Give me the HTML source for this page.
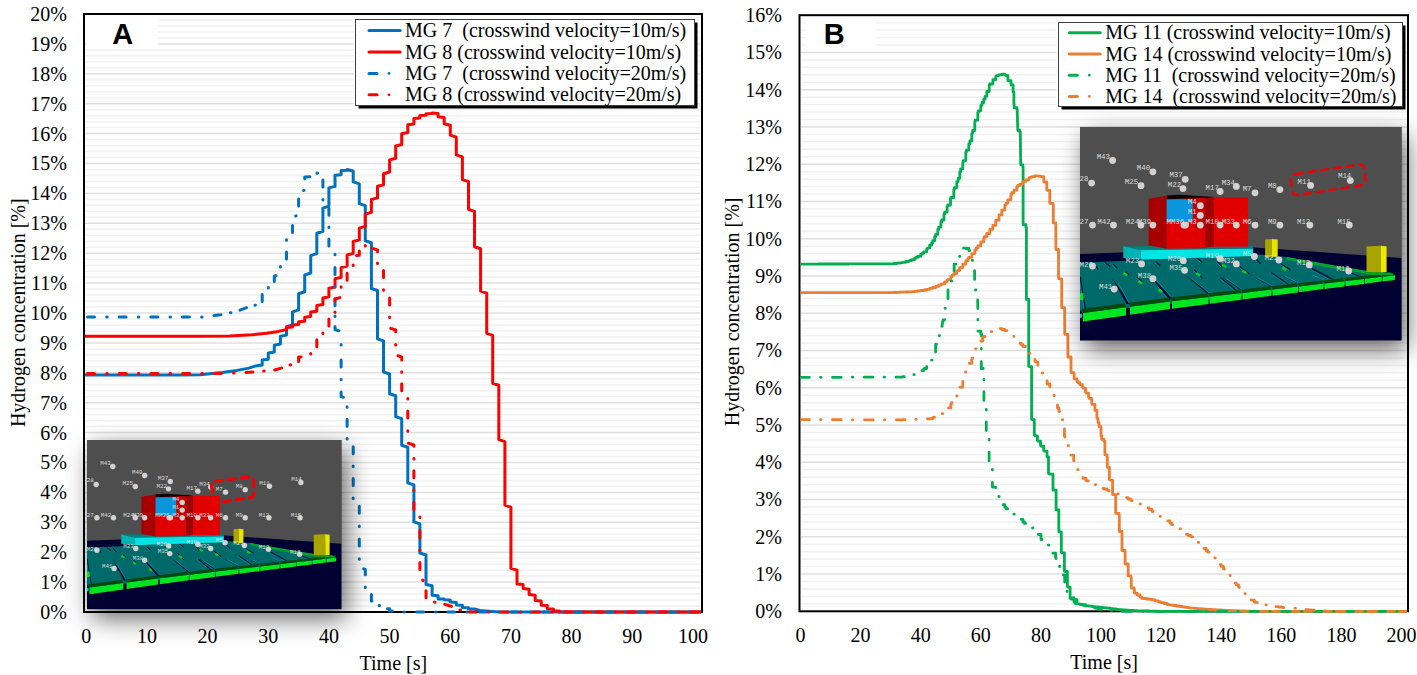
<!DOCTYPE html>
<html><head><meta charset="utf-8"><title>Hydrogen concentration</title>
<style>
html,body{margin:0;padding:0;background:#fff;overflow:hidden;}
svg{display:block;}
text{font-family:"Liberation Serif",serif;font-size:20px;fill:#000;}
.lbl{font-family:"Liberation Sans",sans-serif;font-weight:bold;font-size:29px;}
.mono{font-family:"Liberation Mono",monospace;}
</style></head><body>
<svg width="1417" height="675" viewBox="0 0 1417 675">
<defs>
<filter id="sh" x="-40%" y="-50%" width="180%" height="200%">
<feGaussianBlur in="SourceAlpha" stdDeviation="13"/>
<feOffset dx="5" dy="9" result="b"/>
<feComponentTransfer><feFuncA type="linear" slope="0.62"/></feComponentTransfer>
<feMerge><feMergeNode/><feMergeNode in="SourceGraphic"/></feMerge>
</filter>
</defs>
<rect width="1417" height="675" fill="#fff"/>

<line x1="85" y1="612.00" x2="700" y2="612.00" stroke="#dfdfdf" stroke-width="1.5"/>
<line x1="85" y1="606.02" x2="700" y2="606.02" stroke="#f1f1f1" stroke-width="1.5"/>
<line x1="85" y1="600.04" x2="700" y2="600.04" stroke="#f1f1f1" stroke-width="1.5"/>
<line x1="85" y1="594.06" x2="700" y2="594.06" stroke="#f1f1f1" stroke-width="1.5"/>
<line x1="85" y1="588.08" x2="700" y2="588.08" stroke="#f1f1f1" stroke-width="1.5"/>
<line x1="85" y1="582.10" x2="700" y2="582.10" stroke="#dfdfdf" stroke-width="1.5"/>
<line x1="85" y1="576.12" x2="700" y2="576.12" stroke="#f1f1f1" stroke-width="1.5"/>
<line x1="85" y1="570.14" x2="700" y2="570.14" stroke="#f1f1f1" stroke-width="1.5"/>
<line x1="85" y1="564.16" x2="700" y2="564.16" stroke="#f1f1f1" stroke-width="1.5"/>
<line x1="85" y1="558.18" x2="700" y2="558.18" stroke="#f1f1f1" stroke-width="1.5"/>
<line x1="85" y1="552.20" x2="700" y2="552.20" stroke="#dfdfdf" stroke-width="1.5"/>
<line x1="85" y1="546.22" x2="700" y2="546.22" stroke="#f1f1f1" stroke-width="1.5"/>
<line x1="85" y1="540.24" x2="700" y2="540.24" stroke="#f1f1f1" stroke-width="1.5"/>
<line x1="85" y1="534.26" x2="700" y2="534.26" stroke="#f1f1f1" stroke-width="1.5"/>
<line x1="85" y1="528.28" x2="700" y2="528.28" stroke="#f1f1f1" stroke-width="1.5"/>
<line x1="85" y1="522.30" x2="700" y2="522.30" stroke="#dfdfdf" stroke-width="1.5"/>
<line x1="85" y1="516.32" x2="700" y2="516.32" stroke="#f1f1f1" stroke-width="1.5"/>
<line x1="85" y1="510.34" x2="700" y2="510.34" stroke="#f1f1f1" stroke-width="1.5"/>
<line x1="85" y1="504.36" x2="700" y2="504.36" stroke="#f1f1f1" stroke-width="1.5"/>
<line x1="85" y1="498.38" x2="700" y2="498.38" stroke="#f1f1f1" stroke-width="1.5"/>
<line x1="85" y1="492.40" x2="700" y2="492.40" stroke="#dfdfdf" stroke-width="1.5"/>
<line x1="85" y1="486.42" x2="700" y2="486.42" stroke="#f1f1f1" stroke-width="1.5"/>
<line x1="85" y1="480.44" x2="700" y2="480.44" stroke="#f1f1f1" stroke-width="1.5"/>
<line x1="85" y1="474.46" x2="700" y2="474.46" stroke="#f1f1f1" stroke-width="1.5"/>
<line x1="85" y1="468.48" x2="700" y2="468.48" stroke="#f1f1f1" stroke-width="1.5"/>
<line x1="85" y1="462.50" x2="700" y2="462.50" stroke="#dfdfdf" stroke-width="1.5"/>
<line x1="85" y1="456.52" x2="700" y2="456.52" stroke="#f1f1f1" stroke-width="1.5"/>
<line x1="85" y1="450.54" x2="700" y2="450.54" stroke="#f1f1f1" stroke-width="1.5"/>
<line x1="85" y1="444.56" x2="700" y2="444.56" stroke="#f1f1f1" stroke-width="1.5"/>
<line x1="85" y1="438.58" x2="700" y2="438.58" stroke="#f1f1f1" stroke-width="1.5"/>
<line x1="85" y1="432.60" x2="700" y2="432.60" stroke="#dfdfdf" stroke-width="1.5"/>
<line x1="85" y1="426.62" x2="700" y2="426.62" stroke="#f1f1f1" stroke-width="1.5"/>
<line x1="85" y1="420.64" x2="700" y2="420.64" stroke="#f1f1f1" stroke-width="1.5"/>
<line x1="85" y1="414.66" x2="700" y2="414.66" stroke="#f1f1f1" stroke-width="1.5"/>
<line x1="85" y1="408.68" x2="700" y2="408.68" stroke="#f1f1f1" stroke-width="1.5"/>
<line x1="85" y1="402.70" x2="700" y2="402.70" stroke="#dfdfdf" stroke-width="1.5"/>
<line x1="85" y1="396.72" x2="700" y2="396.72" stroke="#f1f1f1" stroke-width="1.5"/>
<line x1="85" y1="390.74" x2="700" y2="390.74" stroke="#f1f1f1" stroke-width="1.5"/>
<line x1="85" y1="384.76" x2="700" y2="384.76" stroke="#f1f1f1" stroke-width="1.5"/>
<line x1="85" y1="378.78" x2="700" y2="378.78" stroke="#f1f1f1" stroke-width="1.5"/>
<line x1="85" y1="372.80" x2="700" y2="372.80" stroke="#dfdfdf" stroke-width="1.5"/>
<line x1="85" y1="366.82" x2="700" y2="366.82" stroke="#f1f1f1" stroke-width="1.5"/>
<line x1="85" y1="360.84" x2="700" y2="360.84" stroke="#f1f1f1" stroke-width="1.5"/>
<line x1="85" y1="354.86" x2="700" y2="354.86" stroke="#f1f1f1" stroke-width="1.5"/>
<line x1="85" y1="348.88" x2="700" y2="348.88" stroke="#f1f1f1" stroke-width="1.5"/>
<line x1="85" y1="342.90" x2="700" y2="342.90" stroke="#dfdfdf" stroke-width="1.5"/>
<line x1="85" y1="336.92" x2="700" y2="336.92" stroke="#f1f1f1" stroke-width="1.5"/>
<line x1="85" y1="330.94" x2="700" y2="330.94" stroke="#f1f1f1" stroke-width="1.5"/>
<line x1="85" y1="324.96" x2="700" y2="324.96" stroke="#f1f1f1" stroke-width="1.5"/>
<line x1="85" y1="318.98" x2="700" y2="318.98" stroke="#f1f1f1" stroke-width="1.5"/>
<line x1="85" y1="313.00" x2="700" y2="313.00" stroke="#dfdfdf" stroke-width="1.5"/>
<line x1="85" y1="307.02" x2="700" y2="307.02" stroke="#f1f1f1" stroke-width="1.5"/>
<line x1="85" y1="301.04" x2="700" y2="301.04" stroke="#f1f1f1" stroke-width="1.5"/>
<line x1="85" y1="295.06" x2="700" y2="295.06" stroke="#f1f1f1" stroke-width="1.5"/>
<line x1="85" y1="289.08" x2="700" y2="289.08" stroke="#f1f1f1" stroke-width="1.5"/>
<line x1="85" y1="283.10" x2="700" y2="283.10" stroke="#dfdfdf" stroke-width="1.5"/>
<line x1="85" y1="277.12" x2="700" y2="277.12" stroke="#f1f1f1" stroke-width="1.5"/>
<line x1="85" y1="271.14" x2="700" y2="271.14" stroke="#f1f1f1" stroke-width="1.5"/>
<line x1="85" y1="265.16" x2="700" y2="265.16" stroke="#f1f1f1" stroke-width="1.5"/>
<line x1="85" y1="259.18" x2="700" y2="259.18" stroke="#f1f1f1" stroke-width="1.5"/>
<line x1="85" y1="253.20" x2="700" y2="253.20" stroke="#dfdfdf" stroke-width="1.5"/>
<line x1="85" y1="247.22" x2="700" y2="247.22" stroke="#f1f1f1" stroke-width="1.5"/>
<line x1="85" y1="241.24" x2="700" y2="241.24" stroke="#f1f1f1" stroke-width="1.5"/>
<line x1="85" y1="235.26" x2="700" y2="235.26" stroke="#f1f1f1" stroke-width="1.5"/>
<line x1="85" y1="229.28" x2="700" y2="229.28" stroke="#f1f1f1" stroke-width="1.5"/>
<line x1="85" y1="223.30" x2="700" y2="223.30" stroke="#dfdfdf" stroke-width="1.5"/>
<line x1="85" y1="217.32" x2="700" y2="217.32" stroke="#f1f1f1" stroke-width="1.5"/>
<line x1="85" y1="211.34" x2="700" y2="211.34" stroke="#f1f1f1" stroke-width="1.5"/>
<line x1="85" y1="205.36" x2="700" y2="205.36" stroke="#f1f1f1" stroke-width="1.5"/>
<line x1="85" y1="199.38" x2="700" y2="199.38" stroke="#f1f1f1" stroke-width="1.5"/>
<line x1="85" y1="193.40" x2="700" y2="193.40" stroke="#dfdfdf" stroke-width="1.5"/>
<line x1="85" y1="187.42" x2="700" y2="187.42" stroke="#f1f1f1" stroke-width="1.5"/>
<line x1="85" y1="181.44" x2="700" y2="181.44" stroke="#f1f1f1" stroke-width="1.5"/>
<line x1="85" y1="175.46" x2="700" y2="175.46" stroke="#f1f1f1" stroke-width="1.5"/>
<line x1="85" y1="169.48" x2="700" y2="169.48" stroke="#f1f1f1" stroke-width="1.5"/>
<line x1="85" y1="163.50" x2="700" y2="163.50" stroke="#dfdfdf" stroke-width="1.5"/>
<line x1="85" y1="157.52" x2="700" y2="157.52" stroke="#f1f1f1" stroke-width="1.5"/>
<line x1="85" y1="151.54" x2="700" y2="151.54" stroke="#f1f1f1" stroke-width="1.5"/>
<line x1="85" y1="145.56" x2="700" y2="145.56" stroke="#f1f1f1" stroke-width="1.5"/>
<line x1="85" y1="139.58" x2="700" y2="139.58" stroke="#f1f1f1" stroke-width="1.5"/>
<line x1="85" y1="133.60" x2="700" y2="133.60" stroke="#dfdfdf" stroke-width="1.5"/>
<line x1="85" y1="127.62" x2="700" y2="127.62" stroke="#f1f1f1" stroke-width="1.5"/>
<line x1="85" y1="121.64" x2="700" y2="121.64" stroke="#f1f1f1" stroke-width="1.5"/>
<line x1="85" y1="115.66" x2="700" y2="115.66" stroke="#f1f1f1" stroke-width="1.5"/>
<line x1="85" y1="109.68" x2="700" y2="109.68" stroke="#f1f1f1" stroke-width="1.5"/>
<line x1="85" y1="103.70" x2="700" y2="103.70" stroke="#dfdfdf" stroke-width="1.5"/>
<line x1="85" y1="97.72" x2="700" y2="97.72" stroke="#f1f1f1" stroke-width="1.5"/>
<line x1="85" y1="91.74" x2="700" y2="91.74" stroke="#f1f1f1" stroke-width="1.5"/>
<line x1="85" y1="85.76" x2="700" y2="85.76" stroke="#f1f1f1" stroke-width="1.5"/>
<line x1="85" y1="79.78" x2="700" y2="79.78" stroke="#f1f1f1" stroke-width="1.5"/>
<line x1="85" y1="73.80" x2="700" y2="73.80" stroke="#dfdfdf" stroke-width="1.5"/>
<line x1="85" y1="67.82" x2="700" y2="67.82" stroke="#f1f1f1" stroke-width="1.5"/>
<line x1="85" y1="61.84" x2="700" y2="61.84" stroke="#f1f1f1" stroke-width="1.5"/>
<line x1="85" y1="55.86" x2="700" y2="55.86" stroke="#f1f1f1" stroke-width="1.5"/>
<line x1="85" y1="49.88" x2="700" y2="49.88" stroke="#f1f1f1" stroke-width="1.5"/>
<line x1="85" y1="43.90" x2="700" y2="43.90" stroke="#dfdfdf" stroke-width="1.5"/>
<line x1="85" y1="37.92" x2="700" y2="37.92" stroke="#f1f1f1" stroke-width="1.5"/>
<line x1="85" y1="31.94" x2="700" y2="31.94" stroke="#f1f1f1" stroke-width="1.5"/>
<line x1="85" y1="25.96" x2="700" y2="25.96" stroke="#f1f1f1" stroke-width="1.5"/>
<line x1="85" y1="19.98" x2="700" y2="19.98" stroke="#f1f1f1" stroke-width="1.5"/>
<line x1="85" y1="14.00" x2="700" y2="14.00" stroke="#dfdfdf" stroke-width="1.5"/>
<line x1="801" y1="611.30" x2="1407" y2="611.30" stroke="#dfdfdf" stroke-width="1.5"/>
<line x1="801" y1="603.85" x2="1407" y2="603.85" stroke="#f1f1f1" stroke-width="1.5"/>
<line x1="801" y1="596.40" x2="1407" y2="596.40" stroke="#f1f1f1" stroke-width="1.5"/>
<line x1="801" y1="588.95" x2="1407" y2="588.95" stroke="#f1f1f1" stroke-width="1.5"/>
<line x1="801" y1="581.50" x2="1407" y2="581.50" stroke="#f1f1f1" stroke-width="1.5"/>
<line x1="801" y1="574.04" x2="1407" y2="574.04" stroke="#dfdfdf" stroke-width="1.5"/>
<line x1="801" y1="566.59" x2="1407" y2="566.59" stroke="#f1f1f1" stroke-width="1.5"/>
<line x1="801" y1="559.14" x2="1407" y2="559.14" stroke="#f1f1f1" stroke-width="1.5"/>
<line x1="801" y1="551.69" x2="1407" y2="551.69" stroke="#f1f1f1" stroke-width="1.5"/>
<line x1="801" y1="544.24" x2="1407" y2="544.24" stroke="#f1f1f1" stroke-width="1.5"/>
<line x1="801" y1="536.79" x2="1407" y2="536.79" stroke="#dfdfdf" stroke-width="1.5"/>
<line x1="801" y1="529.34" x2="1407" y2="529.34" stroke="#f1f1f1" stroke-width="1.5"/>
<line x1="801" y1="521.89" x2="1407" y2="521.89" stroke="#f1f1f1" stroke-width="1.5"/>
<line x1="801" y1="514.43" x2="1407" y2="514.43" stroke="#f1f1f1" stroke-width="1.5"/>
<line x1="801" y1="506.98" x2="1407" y2="506.98" stroke="#f1f1f1" stroke-width="1.5"/>
<line x1="801" y1="499.53" x2="1407" y2="499.53" stroke="#dfdfdf" stroke-width="1.5"/>
<line x1="801" y1="492.08" x2="1407" y2="492.08" stroke="#f1f1f1" stroke-width="1.5"/>
<line x1="801" y1="484.63" x2="1407" y2="484.63" stroke="#f1f1f1" stroke-width="1.5"/>
<line x1="801" y1="477.18" x2="1407" y2="477.18" stroke="#f1f1f1" stroke-width="1.5"/>
<line x1="801" y1="469.73" x2="1407" y2="469.73" stroke="#f1f1f1" stroke-width="1.5"/>
<line x1="801" y1="462.28" x2="1407" y2="462.28" stroke="#dfdfdf" stroke-width="1.5"/>
<line x1="801" y1="454.82" x2="1407" y2="454.82" stroke="#f1f1f1" stroke-width="1.5"/>
<line x1="801" y1="447.37" x2="1407" y2="447.37" stroke="#f1f1f1" stroke-width="1.5"/>
<line x1="801" y1="439.92" x2="1407" y2="439.92" stroke="#f1f1f1" stroke-width="1.5"/>
<line x1="801" y1="432.47" x2="1407" y2="432.47" stroke="#f1f1f1" stroke-width="1.5"/>
<line x1="801" y1="425.02" x2="1407" y2="425.02" stroke="#dfdfdf" stroke-width="1.5"/>
<line x1="801" y1="417.57" x2="1407" y2="417.57" stroke="#f1f1f1" stroke-width="1.5"/>
<line x1="801" y1="410.12" x2="1407" y2="410.12" stroke="#f1f1f1" stroke-width="1.5"/>
<line x1="801" y1="402.67" x2="1407" y2="402.67" stroke="#f1f1f1" stroke-width="1.5"/>
<line x1="801" y1="395.22" x2="1407" y2="395.22" stroke="#f1f1f1" stroke-width="1.5"/>
<line x1="801" y1="387.76" x2="1407" y2="387.76" stroke="#dfdfdf" stroke-width="1.5"/>
<line x1="801" y1="380.31" x2="1407" y2="380.31" stroke="#f1f1f1" stroke-width="1.5"/>
<line x1="801" y1="372.86" x2="1407" y2="372.86" stroke="#f1f1f1" stroke-width="1.5"/>
<line x1="801" y1="365.41" x2="1407" y2="365.41" stroke="#f1f1f1" stroke-width="1.5"/>
<line x1="801" y1="357.96" x2="1407" y2="357.96" stroke="#f1f1f1" stroke-width="1.5"/>
<line x1="801" y1="350.51" x2="1407" y2="350.51" stroke="#dfdfdf" stroke-width="1.5"/>
<line x1="801" y1="343.06" x2="1407" y2="343.06" stroke="#f1f1f1" stroke-width="1.5"/>
<line x1="801" y1="335.61" x2="1407" y2="335.61" stroke="#f1f1f1" stroke-width="1.5"/>
<line x1="801" y1="328.15" x2="1407" y2="328.15" stroke="#f1f1f1" stroke-width="1.5"/>
<line x1="801" y1="320.70" x2="1407" y2="320.70" stroke="#f1f1f1" stroke-width="1.5"/>
<line x1="801" y1="313.25" x2="1407" y2="313.25" stroke="#dfdfdf" stroke-width="1.5"/>
<line x1="801" y1="305.80" x2="1407" y2="305.80" stroke="#f1f1f1" stroke-width="1.5"/>
<line x1="801" y1="298.35" x2="1407" y2="298.35" stroke="#f1f1f1" stroke-width="1.5"/>
<line x1="801" y1="290.90" x2="1407" y2="290.90" stroke="#f1f1f1" stroke-width="1.5"/>
<line x1="801" y1="283.45" x2="1407" y2="283.45" stroke="#f1f1f1" stroke-width="1.5"/>
<line x1="801" y1="276.00" x2="1407" y2="276.00" stroke="#dfdfdf" stroke-width="1.5"/>
<line x1="801" y1="268.54" x2="1407" y2="268.54" stroke="#f1f1f1" stroke-width="1.5"/>
<line x1="801" y1="261.09" x2="1407" y2="261.09" stroke="#f1f1f1" stroke-width="1.5"/>
<line x1="801" y1="253.64" x2="1407" y2="253.64" stroke="#f1f1f1" stroke-width="1.5"/>
<line x1="801" y1="246.19" x2="1407" y2="246.19" stroke="#f1f1f1" stroke-width="1.5"/>
<line x1="801" y1="238.74" x2="1407" y2="238.74" stroke="#dfdfdf" stroke-width="1.5"/>
<line x1="801" y1="231.29" x2="1407" y2="231.29" stroke="#f1f1f1" stroke-width="1.5"/>
<line x1="801" y1="223.84" x2="1407" y2="223.84" stroke="#f1f1f1" stroke-width="1.5"/>
<line x1="801" y1="216.39" x2="1407" y2="216.39" stroke="#f1f1f1" stroke-width="1.5"/>
<line x1="801" y1="208.94" x2="1407" y2="208.94" stroke="#f1f1f1" stroke-width="1.5"/>
<line x1="801" y1="201.48" x2="1407" y2="201.48" stroke="#dfdfdf" stroke-width="1.5"/>
<line x1="801" y1="194.03" x2="1407" y2="194.03" stroke="#f1f1f1" stroke-width="1.5"/>
<line x1="801" y1="186.58" x2="1407" y2="186.58" stroke="#f1f1f1" stroke-width="1.5"/>
<line x1="801" y1="179.13" x2="1407" y2="179.13" stroke="#f1f1f1" stroke-width="1.5"/>
<line x1="801" y1="171.68" x2="1407" y2="171.68" stroke="#f1f1f1" stroke-width="1.5"/>
<line x1="801" y1="164.23" x2="1407" y2="164.23" stroke="#dfdfdf" stroke-width="1.5"/>
<line x1="801" y1="156.78" x2="1407" y2="156.78" stroke="#f1f1f1" stroke-width="1.5"/>
<line x1="801" y1="149.33" x2="1407" y2="149.33" stroke="#f1f1f1" stroke-width="1.5"/>
<line x1="801" y1="141.87" x2="1407" y2="141.87" stroke="#f1f1f1" stroke-width="1.5"/>
<line x1="801" y1="134.42" x2="1407" y2="134.42" stroke="#f1f1f1" stroke-width="1.5"/>
<line x1="801" y1="126.97" x2="1407" y2="126.97" stroke="#dfdfdf" stroke-width="1.5"/>
<line x1="801" y1="119.52" x2="1407" y2="119.52" stroke="#f1f1f1" stroke-width="1.5"/>
<line x1="801" y1="112.07" x2="1407" y2="112.07" stroke="#f1f1f1" stroke-width="1.5"/>
<line x1="801" y1="104.62" x2="1407" y2="104.62" stroke="#f1f1f1" stroke-width="1.5"/>
<line x1="801" y1="97.17" x2="1407" y2="97.17" stroke="#f1f1f1" stroke-width="1.5"/>
<line x1="801" y1="89.72" x2="1407" y2="89.72" stroke="#dfdfdf" stroke-width="1.5"/>
<line x1="801" y1="82.26" x2="1407" y2="82.26" stroke="#f1f1f1" stroke-width="1.5"/>
<line x1="801" y1="74.81" x2="1407" y2="74.81" stroke="#f1f1f1" stroke-width="1.5"/>
<line x1="801" y1="67.36" x2="1407" y2="67.36" stroke="#f1f1f1" stroke-width="1.5"/>
<line x1="801" y1="59.91" x2="1407" y2="59.91" stroke="#f1f1f1" stroke-width="1.5"/>
<line x1="801" y1="52.46" x2="1407" y2="52.46" stroke="#dfdfdf" stroke-width="1.5"/>
<line x1="801" y1="45.01" x2="1407" y2="45.01" stroke="#f1f1f1" stroke-width="1.5"/>
<line x1="801" y1="37.56" x2="1407" y2="37.56" stroke="#f1f1f1" stroke-width="1.5"/>
<line x1="801" y1="30.11" x2="1407" y2="30.11" stroke="#f1f1f1" stroke-width="1.5"/>
<line x1="801" y1="22.66" x2="1407" y2="22.66" stroke="#f1f1f1" stroke-width="1.5"/>
<line x1="801" y1="15.20" x2="1407" y2="15.20" stroke="#dfdfdf" stroke-width="1.5"/>
<rect x="86" y="15" width="72" height="31" fill="#fff"/>
<text class="lbl" x="112.2" y="44.2">A</text>
<rect x="806" y="16" width="70" height="31" fill="#fff"/>
<text class="lbl" x="823.8" y="44.2">B</text>
<text x="66.8" y="618.90" text-anchor="end">0%</text>
<text x="66.8" y="589.00" text-anchor="end">1%</text>
<text x="66.8" y="559.10" text-anchor="end">2%</text>
<text x="66.8" y="529.20" text-anchor="end">3%</text>
<text x="66.8" y="499.30" text-anchor="end">4%</text>
<text x="66.8" y="469.40" text-anchor="end">5%</text>
<text x="66.8" y="439.50" text-anchor="end">6%</text>
<text x="66.8" y="409.60" text-anchor="end">7%</text>
<text x="66.8" y="379.70" text-anchor="end">8%</text>
<text x="66.8" y="349.80" text-anchor="end">9%</text>
<text x="66.8" y="319.90" text-anchor="end">10%</text>
<text x="66.8" y="290.00" text-anchor="end">11%</text>
<text x="66.8" y="260.10" text-anchor="end">12%</text>
<text x="66.8" y="230.20" text-anchor="end">13%</text>
<text x="66.8" y="200.30" text-anchor="end">14%</text>
<text x="66.8" y="170.40" text-anchor="end">15%</text>
<text x="66.8" y="140.50" text-anchor="end">16%</text>
<text x="66.8" y="110.60" text-anchor="end">17%</text>
<text x="66.8" y="80.70" text-anchor="end">18%</text>
<text x="66.8" y="50.80" text-anchor="end">19%</text>
<text x="66.8" y="20.90" text-anchor="end">20%</text>
<text x="782.0" y="618.20" text-anchor="end">0%</text>
<text x="782.0" y="580.94" text-anchor="end">1%</text>
<text x="782.0" y="543.69" text-anchor="end">2%</text>
<text x="782.0" y="506.43" text-anchor="end">3%</text>
<text x="782.0" y="469.18" text-anchor="end">4%</text>
<text x="782.0" y="431.92" text-anchor="end">5%</text>
<text x="782.0" y="394.66" text-anchor="end">6%</text>
<text x="782.0" y="357.41" text-anchor="end">7%</text>
<text x="782.0" y="320.15" text-anchor="end">8%</text>
<text x="782.0" y="282.90" text-anchor="end">9%</text>
<text x="782.0" y="245.64" text-anchor="end">10%</text>
<text x="782.0" y="208.38" text-anchor="end">11%</text>
<text x="782.0" y="171.13" text-anchor="end">12%</text>
<text x="782.0" y="133.87" text-anchor="end">13%</text>
<text x="782.0" y="96.62" text-anchor="end">14%</text>
<text x="782.0" y="59.36" text-anchor="end">15%</text>
<text x="782.0" y="22.10" text-anchor="end">16%</text>
<text x="86.30" y="643" text-anchor="middle">0</text>
<text x="146.96" y="643" text-anchor="middle">10</text>
<text x="207.62" y="643" text-anchor="middle">20</text>
<text x="268.28" y="643" text-anchor="middle">30</text>
<text x="328.94" y="643" text-anchor="middle">40</text>
<text x="389.60" y="643" text-anchor="middle">50</text>
<text x="450.26" y="643" text-anchor="middle">60</text>
<text x="510.92" y="643" text-anchor="middle">70</text>
<text x="571.58" y="643" text-anchor="middle">80</text>
<text x="632.24" y="643" text-anchor="middle">90</text>
<text x="692.90" y="643" text-anchor="middle">100</text>
<text x="800.50" y="642" text-anchor="middle">0</text>
<text x="860.60" y="642" text-anchor="middle">20</text>
<text x="920.70" y="642" text-anchor="middle">40</text>
<text x="980.80" y="642" text-anchor="middle">60</text>
<text x="1040.90" y="642" text-anchor="middle">80</text>
<text x="1101.00" y="642" text-anchor="middle">100</text>
<text x="1161.10" y="642" text-anchor="middle">120</text>
<text x="1221.20" y="642" text-anchor="middle">140</text>
<text x="1281.30" y="642" text-anchor="middle">160</text>
<text x="1341.40" y="642" text-anchor="middle">180</text>
<text x="1401.50" y="642" text-anchor="middle">200</text>
<text x="359.5" y="670">Time [s]</text>
<text x="1070.3" y="669">Time [s]</text>
<text transform="translate(25,312.7) rotate(-90)" text-anchor="middle">Hydrogen concentration [%]</text>
<text transform="translate(738.8,311.9) rotate(-90)" text-anchor="middle">Hydrogen concentration [%]</text>
<rect x="84" y="14" width="618" height="598" fill="none" stroke="#000" stroke-width="2"/>
<rect x="799.5" y="15.2" width="608.5" height="596.0999999999999" fill="none" stroke="#000" stroke-width="2"/>
<clipPath id="clipA"><rect x="85" y="15" width="616" height="600"/></clipPath>
<g clip-path="url(#clipA)">
<path d="M85.0,375.0 L180.0,375.0 L200.0,374.8 L222.2,372.6 L237.0,370.4 L248.9,368.1 L255.6,365.9 L262.2,365.0 L262.2,365.0 L262.2,360.0 L268.3,359.2 L268.3,353.0 L274.3,352.1 L274.3,345.2 L280.4,344.1 L280.4,336.3 L286.5,335.1 L286.5,326.7 L292.5,324.9 L292.5,311.9 L298.6,309.9 L298.6,293.8 L304.7,291.8 L304.7,275.0 L310.7,273.0 L310.7,255.6 L316.8,253.6 L316.8,233.3 L322.9,231.3 L322.9,208.1 L328.9,206.1 L328.9,187.9 L335.0,186.4 L335.0,175.3 L341.1,174.7 L341.1,170.4 L347.1,170.3 L347.1,169.5 L353.2,171.0 L353.2,181.9 L359.3,183.9 L359.3,203.7 L365.3,205.7 L365.3,240.7 L371.4,242.7 L371.4,288.5 L377.5,290.5 L377.5,338.8 L383.5,340.8 L383.5,372.0 L389.6,374.0 L389.6,393.8 L395.7,395.8 L395.7,416.6 L401.7,418.6 L401.7,445.2 L407.8,447.2 L407.8,482.9 L413.9,484.9 L413.9,521.9 L419.9,523.9 L419.9,553.0 L426.0,555.0 L426.0,584.5 L432.1,585.8 L432.1,595.2 L438.1,595.7 L438.1,599.0 L444.2,599.1 L444.2,599.8 L450.3,600.1 L450.3,602.0 L456.3,602.4 L456.3,605.0 L462.4,605.3 L462.4,607.5 L468.5,607.7 L468.5,609.0 L474.5,609.0 L480.0,610.5 L492.0,611.5 L500.0,612.0 L701.0,612.0" fill="none" stroke="#0070c0" stroke-width="3" stroke-linejoin="round" stroke-linecap="round"/>
<path d="M85.0,336.3 L200.0,336.3 L229.6,336.0 L251.9,334.8 L266.7,333.3 L278.5,331.4 L285.9,329.6 L286.5,329.6 L286.5,327.4 L292.5,327.1 L292.5,325.0 L298.6,324.6 L298.6,321.7 L304.7,321.2 L304.7,317.2 L310.7,316.6 L310.7,312.0 L316.8,311.2 L316.8,305.4 L322.9,304.5 L322.9,298.0 L328.9,296.8 L328.9,288.3 L335.0,287.1 L335.0,278.7 L341.1,277.4 L341.1,267.6 L347.1,266.1 L347.1,255.0 L353.2,253.4 L353.2,241.5 L359.3,239.9 L359.3,228.1 L365.3,226.4 L365.3,214.1 L371.4,212.3 L371.4,199.5 L377.5,197.9 L377.5,186.3 L383.5,184.8 L383.5,173.7 L389.6,172.0 L389.6,159.9 L395.7,158.2 L395.7,146.0 L401.7,144.5 L401.7,133.7 L407.8,132.6 L407.8,124.8 L413.9,124.0 L413.9,118.4 L419.9,118.1 L419.9,115.5 L426.0,115.3 L426.0,113.7 L432.1,113.6 L432.1,113.0 L438.1,113.4 L438.1,116.7 L444.2,117.6 L444.2,123.8 L450.3,125.2 L450.3,135.2 L456.3,137.2 L456.3,154.9 L462.4,156.9 L462.4,179.6 L468.5,181.6 L468.5,209.3 L474.5,211.3 L474.5,246.7 L480.6,248.7 L480.6,291.1 L486.7,293.1 L486.7,333.3 L492.7,335.3 L492.7,383.3 L498.8,385.3 L498.8,439.6 L504.9,441.6 L504.9,505.2 L510.9,507.2 L510.9,568.2 L517.0,570.1 L517.0,584.1 L523.1,584.6 L523.1,588.6 L529.1,589.3 L529.1,594.5 L535.2,595.2 L535.2,600.4 L541.2,601.0 L541.2,605.2 L547.3,605.6 L547.3,608.7 L553.4,609.0 L553.4,610.9 L559.4,611.0 L559.4,612.0 L565.5,612.0 L701.0,612.0" fill="none" stroke="#ff0000" stroke-width="3" stroke-linejoin="round" stroke-linecap="round"/>
<path d="M87.5,317.1 L94.5,317.1 M106.7,317.1 L107.2,317.1 M119.1,317.1 L126.1,317.1 M138.3,317.1 L138.8,317.1 M150.8,317.1 L157.8,317.1 M170.0,317.1 L170.5,317.1 M182.4,317.1 L189.4,317.1 M201.6,317.0 L201.8,317.0 L202.1,317.0 M214.0,315.5 L220.7,314.8 L221.0,314.7 M230.4,312.8 L230.9,312.7 M240.0,310.1 L245.2,308.1 L246.5,307.7 M255.0,305.3 L255.4,305.2 M262.2,301.5 L262.2,294.5 M268.3,287.9 L268.3,287.4 M274.3,281.5 L274.3,276.2 L276.0,275.7 M280.4,267.0 L280.4,266.5 M286.5,259.0 L286.5,252.0 M286.5,240.2 L286.5,239.7 M292.5,232.5 L292.5,225.5 M295.7,216.0 L296.1,215.8 M298.6,206.0 L298.6,199.0 M303.6,190.5 L304.1,190.4 M304.7,178.8 L304.7,177.0 L309.9,176.8 M317.1,173.1 L317.6,173.3 M322.9,180.0 L322.9,187.0 M322.9,199.6 L322.9,200.0 L323.0,200.0 M328.9,208.2 L328.9,215.2 M328.9,226.9 L328.9,227.4 M328.9,238.9 L328.9,245.9 M335.0,254.3 L335.0,254.8 M335.0,267.4 L335.0,274.4 M335.0,286.4 L335.0,286.9 M335.0,298.7 L335.0,305.7 M335.0,315.9 L335.0,316.4 M335.0,326.5 L335.0,329.5 L338.8,330.8 M341.1,344.4 L341.1,344.9 M341.1,360.0 L341.1,367.0 M341.1,379.3 L341.1,379.8 M341.1,391.9 L341.1,396.5 L343.4,397.3 M347.1,406.8 L347.1,407.3 M347.1,419.3 L347.1,426.3 M347.1,438.5 L347.1,439.0 M353.2,446.7 L353.2,453.7 M353.2,466.0 L353.2,466.5 M353.2,478.5 L353.2,485.5 M353.2,497.9 L353.2,498.4 M359.3,506.3 L359.3,513.3 M359.3,526.0 L359.3,526.5 M359.3,538.9 L359.3,545.9 M359.3,558.8 L359.3,559.3 M363.6,568.9 L365.3,569.5 L365.3,574.7 M365.3,586.9 L365.3,587.4 M371.4,594.5 L371.4,601.0 L371.9,601.0 M379.1,605.4 L379.6,605.4 M387.5,608.7 L389.6,608.8 L389.6,611.0 L392.3,611.1 M403.9,612.0 L404.4,612.0 M416.7,612.0 L423.7,612.0 M435.6,612.0 L436.1,612.0 M447.8,612.0 L454.8,612.0 M467.0,612.0 L467.5,612.0 M479.5,612.0 L486.5,612.0 M498.7,612.0 L499.2,612.0 M511.2,612.0 L518.2,612.0 M530.4,612.0 L530.9,612.0 M542.9,612.0 L549.9,612.0 M562.1,612.0 L562.6,612.0 M574.6,612.0 L581.6,612.0 M593.8,612.0 L594.3,612.0 M606.3,612.0 L613.3,612.0 M625.5,612.0 L626.0,612.0 M638.0,612.0 L645.0,612.0 M657.2,612.0 L657.7,612.0 M669.7,612.0 L676.7,612.0 M688.9,612.0 L689.4,612.0" fill="none" stroke="#0070c0" stroke-width="3" stroke-linecap="round" stroke-linejoin="round"/>
<path d="M87.5,373.6 L94.5,373.6 M106.7,373.6 L107.2,373.6 M119.2,373.6 L126.2,373.6 M138.4,373.6 L138.9,373.6 M150.9,373.6 L157.9,373.6 M170.1,373.6 L170.6,373.6 M182.6,373.6 L189.6,373.6 M201.8,373.6 L202.3,373.6 M214.3,373.6 L221.3,373.6 M233.5,372.9 L234.0,372.9 M246.0,372.4 L252.6,372.1 L253.0,372.1 M263.7,371.1 L264.2,371.0 M274.7,370.0 L281.2,368.1 L281.5,368.0 M290.1,365.0 L290.6,364.8 M298.6,361.5 L298.6,357.0 L301.1,356.9 M310.7,354.1 L310.7,353.6 M316.8,346.8 L316.8,339.8 M322.9,333.4 L322.9,332.9 M328.9,326.1 L328.9,319.1 M335.0,312.4 L335.0,311.9 M335.0,301.0 L335.0,299.0 L339.8,297.6 M341.1,287.3 L341.1,286.8 M347.1,280.2 L347.1,273.2 M353.2,265.4 L353.2,264.9 M356.6,255.6 L359.3,255.2 L359.3,250.9 M365.3,246.0 L365.3,245.5 M372.4,248.3 L377.5,250.0 L377.5,251.7 M377.5,263.1 L377.5,263.6 M383.5,270.4 L383.5,277.4 M383.5,289.7 L383.5,290.2 M389.6,297.9 L389.6,304.9 M389.6,316.9 L389.6,317.4 M390.7,328.4 L395.7,330.0 L395.7,331.8 M395.7,344.4 L395.7,344.9 M398.0,355.8 L401.7,357.0 L401.7,360.0 M401.7,371.7 L401.7,372.2 M401.7,383.7 L401.7,390.7 M407.8,398.6 L407.8,399.1 M407.8,411.1 L407.8,418.1 M407.8,430.7 L407.8,431.2 M408.4,443.2 L413.9,445.0 L413.9,446.3 M413.9,458.4 L413.9,458.9 M413.9,470.8 L413.9,477.8 M413.9,490.1 L413.9,490.6 M413.9,502.6 L413.9,509.6 M419.9,517.0 L419.9,517.5 M419.9,530.8 L419.9,537.8 M419.9,550.1 L419.9,550.6 M419.9,562.6 L419.9,569.6 M422.7,580.1 L423.0,580.5 M426.0,590.8 L426.0,597.8 M434.5,602.1 L435.0,602.2 M444.8,604.4 L451.2,606.3 L451.5,606.4 M460.0,609.9 L460.5,610.0 M469.3,612.0 L476.3,612.0 M488.5,612.0 L489.0,612.0 M501.0,612.0 L508.0,612.0 M520.2,612.0 L520.7,612.0 M532.7,612.0 L539.7,612.0 M551.9,612.0 L552.4,612.0 M564.4,612.0 L571.4,612.0 M583.6,612.0 L584.1,612.0 M596.1,612.0 L603.1,612.0 M615.3,612.0 L615.8,612.0 M627.8,612.0 L634.8,612.0 M647.0,612.0 L647.5,612.0 M659.5,612.0 L666.5,612.0 M678.7,612.0 L679.2,612.0 M691.2,612.0 L698.2,612.0" fill="none" stroke="#ff0000" stroke-width="3" stroke-linecap="round" stroke-linejoin="round"/>
</g>
<clipPath id="clipB"><rect x="800.5" y="16" width="606.5" height="600"/></clipPath>
<g clip-path="url(#clipB)">
<path d="M801.0,264.1 L803.5,264.1 L803.5,264.1 L806.5,264.1 L806.5,264.1 L809.5,264.1 L809.5,264.1 L812.5,264.1 L812.5,264.1 L815.5,264.1 L815.5,264.1 L818.5,264.1 L818.5,264.0 L821.5,264.0 L821.5,264.0 L824.5,264.0 L824.5,264.0 L827.5,264.0 L827.5,264.0 L830.5,264.0 L830.5,264.0 L833.6,264.0 L833.6,264.0 L836.6,264.0 L836.6,264.0 L839.6,264.0 L839.6,264.0 L842.6,264.0 L842.6,264.0 L845.6,264.0 L845.6,264.0 L848.6,264.0 L848.6,263.9 L851.6,263.9 L851.6,263.9 L854.6,263.9 L854.6,263.9 L857.6,263.9 L857.6,263.9 L860.6,263.9 L860.6,263.9 L863.6,263.9 L863.6,263.9 L866.6,263.9 L866.6,263.9 L869.6,263.9 L869.6,263.9 L872.6,263.9 L872.6,263.9 L875.6,263.9 L875.6,263.9 L878.6,263.9 L878.6,263.8 L881.6,263.8 L881.6,263.8 L884.6,263.8 L884.6,263.8 L887.6,263.8 L887.6,263.8 L890.6,263.8 L890.6,263.8 L891.1,263.8 L891.1,263.8 L893.7,263.8 L893.7,263.5 L896.7,263.5 L896.7,263.2 L899.7,263.2 L899.7,262.8 L901.5,262.8 L901.5,262.6 L902.7,262.6 L902.7,262.3 L905.7,262.3 L905.7,261.5 L908.7,261.5 L908.7,260.8 L909.8,260.8 L909.8,260.5 L911.7,260.5 L911.7,259.6 L914.7,259.6 L914.7,258.1 L916.0,258.1 L916.0,257.4 L917.7,257.4 L917.7,256.3 L920.7,256.3 L920.7,254.3 L922.2,254.3 L922.2,253.3 L923.7,253.3 L923.7,251.8 L926.7,251.8 L926.7,248.8 L927.4,248.8 L927.4,248.1 L929.7,248.1 L929.7,245.2 L931.6,245.2 L931.6,242.9 L932.7,242.9 L932.7,240.7 L934.7,240.7 L934.7,236.7 L935.7,236.7 L935.7,234.3 L937.8,234.3 L937.8,229.4 L938.7,229.4 L938.7,227.2 L940.9,227.2 L940.9,222.2 L941.7,222.2 L941.7,220.0 L944.0,220.0 L944.0,213.9 L944.7,213.9 L944.7,212.2 L947.1,212.2 L947.1,206.6 L947.7,206.6 L947.7,205.0 L950.5,205.0 L950.5,198.2 L950.8,198.2 L950.8,197.5 L953.8,197.5 L953.8,189.4 L954.4,189.4 L954.4,187.6 L956.8,187.6 L956.8,181.7 L958.1,181.7 L958.1,178.3 L959.8,178.3 L959.8,172.0 L960.6,172.0 L960.6,168.9 L962.8,168.9 L962.8,162.2 L963.3,162.2 L963.3,160.6 L965.8,160.6 L965.8,152.3 L966.4,152.3 L966.4,150.2 L968.8,150.2 L968.8,143.9 L969.9,143.9 L969.9,140.9 L971.8,140.9 L971.8,133.6 L972.6,133.6 L972.6,130.5 L974.8,130.5 L974.8,121.5 L975.1,121.5 L975.1,120.2 L977.8,120.2 L977.8,112.5 L978.4,112.5 L978.4,110.8 L980.8,110.8 L980.8,105.3 L982.0,105.3 L982.0,102.5 L983.8,102.5 L983.8,98.9 L985.1,98.9 L985.1,96.3 L986.8,96.3 L986.8,91.5 L989.2,91.5 L989.2,84.9 L989.8,84.9 L989.8,84.0 L992.9,84.0 L992.9,79.7 L995.8,79.7 L995.8,76.4 L996.5,76.4 L996.5,75.6 L998.8,75.6 L998.8,74.9 L1001.7,74.9 L1001.7,74.1 L1001.8,74.1 L1001.8,74.1 L1004.8,74.1 L1004.8,75.2 L1005.8,75.2 L1005.8,75.6 L1007.9,75.6 L1007.9,80.7 L1011.0,80.7 L1011.0,84.9 L1013.1,84.9 L1013.1,92.2 L1013.9,92.2 L1013.9,103.9 L1014.1,103.9 L1014.1,107.7 L1016.9,107.7 L1016.9,109.6 L1017.2,109.6 L1017.2,109.8 L1017.8,130.5 L1019.9,130.5 L1019.9,132.2 L1020.3,132.2 L1020.3,132.6 L1020.7,164.8 L1022.9,164.8 L1022.9,167.2 L1023.1,167.2 L1023.1,167.5 L1023.1,224.6 L1025.9,224.6 L1025.9,227.5 L1026.4,227.5 L1026.4,228.0 L1026.4,299.3 L1028.7,299.3 L1028.7,302.0 L1028.7,366.4 L1028.9,366.4 L1028.9,366.6 L1031.6,366.6 L1031.6,370.0 L1031.6,419.3 L1031.9,419.3 L1031.9,419.6 L1034.3,419.6 L1034.3,422.0 L1034.3,434.9 L1034.9,434.9 L1034.9,435.9 L1037.4,435.9 L1037.4,440.4 L1037.9,440.4 L1037.9,441.2 L1040.5,441.2 L1040.5,445.6 L1040.9,445.6 L1040.9,446.2 L1043.7,446.2 L1043.7,450.7 L1043.9,450.7 L1043.9,451.1 L1047.0,451.1 L1047.0,457.0 L1048.5,457.0 L1048.5,473.6 L1049.9,473.6 L1049.9,474.2 L1053.0,474.2 L1053.0,475.6 L1053.0,490.2 L1056.1,490.2 L1056.1,492.2 L1056.1,509.9 L1058.8,509.9 L1058.8,512.0 L1058.8,531.7 L1058.9,531.7 L1058.9,531.8 L1061.3,531.8 L1061.3,534.0 L1061.3,552.4 L1061.9,552.4 L1061.9,552.9 L1064.4,552.9 L1064.4,555.0 L1064.4,571.3 L1064.9,571.3 L1064.9,571.5 L1067.4,571.5 L1067.4,572.5 L1067.4,586.8 L1067.9,586.8 L1067.9,587.1 L1070.1,587.1 L1070.1,588.5 L1070.1,598.3 L1071.0,598.3 L1071.0,599.1 L1074.0,599.1 L1074.0,602.1 L1075.3,602.1 L1075.3,603.4 L1077.0,603.4 L1077.0,603.8 L1080.0,603.8 L1080.0,604.5 L1083.0,604.5 L1083.0,605.3 L1085.6,605.3 L1085.6,605.9 L1086.0,605.9 L1086.0,605.9 L1089.0,605.9 L1089.0,606.2 L1092.0,606.2 L1092.0,606.6 L1095.0,606.6 L1095.0,606.9 L1098.0,606.9 L1098.0,607.2 L1101.0,607.2 L1101.0,607.5 L1102.2,607.5 L1102.2,607.6 L1104.0,607.6 L1104.0,607.8 L1107.0,607.8 L1107.0,608.2 L1110.0,608.2 L1110.0,608.6 L1113.0,608.6 L1113.0,609.0 L1116.0,609.0 L1116.0,609.3 L1118.8,609.3 L1118.8,609.7 L1119.0,609.7 L1119.0,609.7 L1122.0,609.7 L1122.0,609.9 L1125.0,609.9 L1125.0,610.1 L1128.0,610.1 L1128.0,610.3 L1131.0,610.3 L1131.0,610.5 L1133.4,610.5 L1133.4,610.7 L1134.1,610.7 L1134.1,610.7 L1137.1,610.7 L1137.1,610.8 L1140.1,610.8 L1140.1,610.9 L1143.1,610.9 L1143.1,610.9 L1146.1,610.9 L1146.1,611.0 L1149.1,611.0 L1149.1,611.1 L1152.1,611.1 L1152.1,611.1 L1155.1,611.1 L1155.1,611.2 L1158.1,611.2 L1158.1,611.3 L1160.0,611.3 L1160.0,611.3 L1407.0,611.3" fill="none" stroke="#00b050" stroke-width="2.8" stroke-linejoin="round" stroke-linecap="round"/>
<path d="M801.0,292.6 L891.1,292.6 L893.7,292.6 L893.7,292.5 L896.7,292.5 L896.7,292.4 L899.7,292.4 L899.7,292.2 L902.7,292.2 L902.7,292.1 L905.7,292.1 L905.7,292.0 L908.7,292.0 L908.7,291.8 L911.7,291.8 L911.7,291.7 L911.9,291.7 L911.9,291.7 L914.7,291.7 L914.7,291.3 L917.7,291.3 L917.7,290.9 L920.7,290.9 L920.7,290.5 L923.7,290.5 L923.7,290.1 L924.3,290.1 L924.3,290.0 L926.7,290.0 L926.7,289.3 L929.7,289.3 L929.7,288.4 L932.6,288.4 L932.6,287.5 L932.7,287.5 L932.7,287.5 L935.7,287.5 L935.7,286.3 L938.7,286.3 L938.7,285.2 L940.9,285.2 L940.9,284.4 L941.7,284.4 L941.7,283.8 L944.7,283.8 L944.7,281.8 L947.1,281.8 L947.1,280.2 L947.7,280.2 L947.7,279.6 L950.8,279.6 L950.8,276.6 L952.3,276.6 L952.3,275.1 L953.8,275.1 L953.8,273.6 L956.8,273.6 L956.8,270.6 L959.6,270.6 L959.6,267.8 L959.8,267.8 L959.8,267.6 L962.8,267.6 L962.8,264.2 L965.8,264.2 L965.8,260.9 L967.9,260.9 L967.9,258.5 L968.8,258.5 L968.8,257.4 L971.8,257.4 L971.8,253.6 L974.8,253.6 L974.8,249.9 L976.2,249.9 L976.2,248.1 L977.8,248.1 L977.8,245.9 L980.8,245.9 L980.8,241.8 L983.8,241.8 L983.8,237.7 L984.5,237.7 L984.5,236.7 L986.8,236.7 L986.8,233.5 L989.8,233.5 L989.8,229.4 L992.8,229.4 L992.8,225.3 L992.8,225.3 L992.8,225.3 L995.8,225.3 L995.8,220.2 L999.0,220.2 L999.0,214.9 L1001.8,214.9 L1001.8,210.1 L1004.8,210.1 L1004.8,205.1 L1005.9,205.1 L1005.9,203.3 L1007.8,203.3 L1007.8,199.8 L1010.9,199.8 L1010.9,194.4 L1011.8,194.4 L1011.8,192.7 L1013.9,192.7 L1013.9,190.2 L1016.9,190.2 L1016.9,186.6 L1017.8,186.6 L1017.8,185.5 L1019.9,185.5 L1019.9,184.1 L1022.9,184.1 L1022.9,182.0 L1023.7,182.0 L1023.7,181.4 L1025.9,181.4 L1025.9,179.9 L1028.9,179.9 L1028.9,177.8 L1029.6,177.8 L1029.6,177.3 L1031.9,177.3 L1031.9,176.7 L1034.9,176.7 L1034.9,176.0 L1035.5,176.0 L1035.5,175.8 L1037.9,175.8 L1037.9,176.2 L1040.9,176.2 L1040.9,176.7 L1043.8,176.7 L1043.8,178.4 L1043.8,182.0 L1043.9,182.0 L1043.9,182.0 L1046.8,182.0 L1046.8,183.2 L1046.8,190.3 L1046.9,190.3 L1046.9,190.3 L1049.8,190.3 L1049.8,190.9 L1049.8,203.3 L1049.9,203.3 L1049.9,203.3 L1052.9,203.3 L1052.9,204.2 L1053.3,204.2 L1053.3,204.3 L1053.3,222.9 L1055.8,222.9 L1055.8,224.3 L1055.9,249.5 L1055.9,249.5 L1055.9,249.5 L1058.5,249.5 L1058.5,250.5 L1058.5,278.5 L1058.9,278.5 L1058.9,278.8 L1061.7,278.8 L1061.7,280.6 L1061.7,307.5 L1061.9,307.5 L1061.9,307.7 L1064.6,307.7 L1064.6,309.4 L1064.8,334.2 L1064.9,334.2 L1064.9,334.3 L1067.9,334.3 L1067.9,336.0 L1067.9,357.0 L1067.9,357.0 L1067.9,357.0 L1071.0,357.0 L1071.0,359.0 L1071.0,372.6 L1074.1,372.6 L1074.1,378.8 L1077.0,378.8 L1077.0,381.7 L1078.3,381.7 L1078.3,383.0 L1080.0,383.0 L1080.0,384.7 L1082.4,384.7 L1082.4,387.1 L1083.0,387.1 L1083.0,388.1 L1085.5,388.1 L1085.5,392.3 L1086.0,392.3 L1086.0,393.1 L1088.6,393.1 L1088.6,397.5 L1089.0,397.5 L1089.0,398.3 L1091.7,398.3 L1091.7,403.7 L1092.0,403.7 L1092.0,404.3 L1094.9,404.3 L1094.9,410.0 L1095.0,410.0 L1095.0,410.4 L1096.9,410.4 L1096.9,418.3 L1098.0,418.3 L1098.0,422.6 L1099.0,422.6 L1099.0,426.6 L1101.0,426.6 L1101.0,436.0 L1101.7,436.0 L1101.7,439.3 L1104.0,439.3 L1104.0,441.2 L1104.9,441.2 L1104.9,442.0 L1104.9,454.9 L1107.0,454.9 L1107.0,456.7 L1107.3,456.7 L1107.3,457.0 L1107.3,467.3 L1109.4,467.3 L1109.4,470.0 L1109.4,479.8 L1110.0,479.8 L1110.0,480.2 L1112.6,480.2 L1112.6,482.0 L1112.6,494.5 L1113.0,494.5 L1113.0,494.7 L1115.7,494.7 L1115.7,496.0 L1115.7,513.2 L1116.0,513.2 L1116.0,513.4 L1119.0,513.4 L1119.0,514.9 L1119.3,514.9 L1119.3,515.0 L1119.3,531.5 L1122.0,531.5 L1122.0,533.0 L1122.0,550.5 L1122.0,550.5 L1122.0,550.5 L1125.1,550.5 L1125.1,552.0 L1125.1,564.0 L1128.2,564.0 L1128.2,565.5 L1128.2,575.9 L1131.0,575.9 L1131.0,577.4 L1131.3,577.4 L1131.3,577.5 L1131.3,587.9 L1134.1,587.9 L1134.1,589.3 L1134.4,589.3 L1134.4,589.5 L1134.4,593.1 L1137.1,593.1 L1137.1,595.0 L1140.1,595.0 L1140.1,597.1 L1141.7,597.1 L1141.7,598.3 L1143.1,598.3 L1143.1,598.5 L1146.1,598.5 L1146.1,599.0 L1149.1,599.0 L1149.1,599.4 L1152.0,599.4 L1152.0,599.9 L1152.1,599.9 L1152.1,599.9 L1155.1,599.9 L1155.1,600.8 L1158.1,600.8 L1158.1,601.7 L1160.3,601.7 L1160.3,602.4 L1161.1,602.4 L1161.1,602.6 L1164.1,602.6 L1164.1,603.5 L1167.1,603.5 L1167.1,604.5 L1168.6,604.5 L1168.6,604.9 L1170.1,604.9 L1170.1,605.1 L1173.1,605.1 L1173.1,605.5 L1176.1,605.5 L1176.1,606.0 L1179.1,606.0 L1179.1,606.4 L1180.0,606.4 L1180.0,606.5 L1182.1,606.5 L1182.1,606.8 L1185.1,606.8 L1185.1,607.3 L1188.1,607.3 L1188.1,607.8 L1190.7,607.8 L1190.7,608.2 L1191.2,608.2 L1191.2,608.2 L1194.2,608.2 L1194.2,608.4 L1197.2,608.4 L1197.2,608.7 L1200.2,608.7 L1200.2,608.9 L1203.2,608.9 L1203.2,609.1 L1206.2,609.1 L1206.2,609.3 L1209.2,609.3 L1209.2,609.5 L1211.5,609.5 L1211.5,609.7 L1212.2,609.7 L1212.2,609.7 L1215.2,609.7 L1215.2,609.9 L1218.2,609.9 L1218.2,610.0 L1221.2,610.0 L1221.2,610.2 L1224.2,610.2 L1224.2,610.3 L1227.2,610.3 L1227.2,610.5 L1228.1,610.5 L1228.1,610.5 L1230.2,610.5 L1230.2,610.6 L1233.2,610.6 L1233.2,610.7 L1236.2,610.7 L1236.2,610.8 L1239.2,610.8 L1239.2,610.9 L1242.2,610.9 L1242.2,611.0 L1245.2,611.0 L1245.2,611.1 L1248.2,611.1 L1248.2,611.2 L1250.0,611.2 L1250.0,611.3 L1407.0,611.3" fill="none" stroke="#ed7d31" stroke-width="2.8" stroke-linejoin="round" stroke-linecap="round"/>
<path d="M801.0,377.3 L809.4,377.3 M820.5,377.3 L821.0,377.3 M832.5,377.3 L841.2,377.3 M852.3,377.2 L852.8,377.2 M864.3,377.2 L873.0,377.2 M884.1,377.2 L884.6,377.2 M896.1,377.2 L900.0,377.2 L902.7,377.2 L902.7,376.7 L904.3,376.7 M913.8,374.7 L914.3,374.7 M922.0,370.6 L923.7,370.6 L923.7,369.0 L924.6,369.0 L924.6,368.5 L926.7,368.5 L926.7,366.6 M931.6,360.2 L932.1,360.2 M935.6,352.0 L935.6,350.8 L935.6,344.6 L935.7,344.6 L935.7,344.2 L936.5,344.2 M939.1,335.6 L939.6,335.6 M941.8,326.3 L942.2,326.3 L942.2,324.9 L943.0,320.0 L944.6,320.0 L944.6,319.7 M945.0,308.3 L945.5,308.3 M948.0,298.7 L948.0,290.0 M951.2,281.2 L951.7,281.2 M954.1,271.2 L954.1,264.2 L955.8,264.2 M959.6,256.5 L959.8,256.5 L959.8,256.2 M963.5,248.2 L965.8,248.2 L965.8,248.5 L966.0,248.5 L966.0,248.5 L968.9,248.5 L968.9,250.7 L969.7,250.7 M972.1,260.4 L972.6,260.4 M974.6,270.7 L974.6,278.2 L974.6,279.4 M975.4,290.0 L975.9,290.0 M977.7,299.8 L977.8,308.5 M977.9,319.4 L977.9,319.7 L977.9,319.9 M977.9,331.1 L980.8,331.1 L980.8,333.8 L981.5,333.8 L981.5,334.5 L981.5,336.2 M981.3,348.5 L981.3,349.0 M981.3,361.7 L981.3,368.5 L983.2,368.5 M983.9,379.3 L983.9,379.5 L983.9,379.8 M983.9,391.7 L983.9,400.4 M986.3,409.5 L986.3,410.0 M986.3,421.8 L986.3,430.5 M989.1,439.5 L989.1,440.0 M989.1,452.2 L989.1,460.9 M992.4,469.5 L992.4,469.8 L992.4,470.0 M992.4,482.3 L992.4,487.1 L992.8,487.1 L992.8,487.2 L995.3,487.2 L995.3,487.5 L995.8,487.5 L995.8,487.6 M998.8,496.4 L998.8,496.6 L999.2,496.6 M1003.2,504.7 L1004.8,504.7 L1004.8,507.3 L1006.3,507.3 L1006.3,508.8 L1007.8,508.8 M1013.9,514.2 L1013.9,514.2 L1014.3,514.2 M1021.0,519.3 L1022.9,519.3 L1022.9,522.0 L1024.4,522.0 L1024.4,523.4 L1025.6,523.4 M1032.5,528.0 L1033.0,528.0 M1038.3,534.5 L1041.0,534.5 L1041.0,539.5 L1042.0,539.5 M1048.3,545.1 L1048.8,545.1 M1052.9,553.1 L1055.6,553.1 L1055.6,557.8 L1055.9,557.8 L1055.9,558.6 L1056.1,558.6 M1059.5,566.5 L1060.0,566.5 M1063.3,574.8 L1064.7,574.9 L1064.7,582.0 L1064.9,582.0 M1067.0,591.1 L1067.0,591.6 M1072.0,598.0 L1074.0,598.0 L1074.0,599.6 L1077.0,599.6 L1077.0,601.8 M1085.2,604.7 L1085.7,604.7 M1094.4,607.5 L1095.0,607.5 L1095.0,608.1 L1098.0,608.1 L1098.0,608.8 L1100.0,608.8 L1100.0,609.3 L1101.0,609.3 L1101.0,609.4 L1101.1,609.4 M1111.2,610.4 L1111.7,610.4 M1122.6,611.2 L1125.0,611.3 L1131.3,611.3 M1142.5,611.3 L1143.0,611.3 M1154.4,611.3 L1163.1,611.3 M1174.3,611.3 L1174.8,611.3 M1186.2,611.3 L1194.9,611.3 M1206.1,611.3 L1206.6,611.3 M1218.0,611.3 L1226.7,611.3 M1237.9,611.3 L1238.4,611.3 M1249.8,611.3 L1258.5,611.3 M1269.7,611.3 L1270.2,611.3 M1281.6,611.3 L1290.3,611.3 M1301.5,611.3 L1302.0,611.3 M1313.4,611.3 L1322.1,611.3 M1333.3,611.3 L1333.8,611.3 M1345.2,611.3 L1353.9,611.3 M1365.1,611.3 L1365.6,611.3 M1377.0,611.3 L1385.7,611.3 M1396.9,611.3 L1397.4,611.3" fill="none" stroke="#00b050" stroke-width="2.8" stroke-linecap="round" stroke-linejoin="round"/>
<path d="M801.0,419.7 L809.4,419.7 M820.5,419.7 L821.0,419.7 M832.5,419.7 L841.2,419.7 M852.4,419.8 L852.9,419.8 M864.5,419.8 L873.2,419.8 M884.4,419.8 L884.9,419.8 M896.4,419.8 L900.0,419.8 L902.7,419.8 L902.7,419.7 L905.0,419.7 M915.8,419.3 L916.3,419.3 M927.4,418.8 L929.8,418.8 L929.8,418.7 L932.7,418.7 L932.7,417.6 L933.9,417.6 L933.9,417.2 L934.5,417.2 M942.2,413.7 L942.7,413.7 M948.5,407.9 L950.8,407.9 L950.8,404.1 L951.6,404.1 L951.6,402.7 L952.0,402.7 M956.8,396.2 L956.8,395.9 L957.0,395.9 M959.9,387.1 L962.8,387.1 L962.8,381.4 L962.9,381.4 M965.5,372.2 L965.5,372.2 L965.8,372.2 L965.8,372.0 M969.2,363.3 L971.8,363.3 L971.8,359.0 L972.3,359.0 L972.3,358.1 L972.7,358.1 M975.5,348.8 L976.0,348.8 M980.8,341.1 L982.7,341.1 L982.7,337.3 L983.8,337.3 L983.8,336.5 L984.9,336.5 M991.3,331.7 L991.8,331.7 M1000.2,328.6 L1001.8,328.6 L1001.8,329.5 L1004.5,329.5 L1004.5,330.4 L1004.8,330.4 L1004.8,330.6 L1006.9,330.6 M1013.7,336.3 L1013.9,336.3 L1013.9,336.6 M1020.0,343.3 L1021.2,343.3 L1021.2,344.6 L1022.9,344.6 L1022.9,346.5 L1025.5,346.5 M1029.4,353.4 L1029.9,353.4 M1034.9,359.5 L1034.9,361.2 L1035.7,361.2 L1035.7,362.2 L1037.9,362.2 L1037.9,365.2 M1042.2,373.0 L1042.7,373.0 M1047.1,381.0 L1047.1,384.0 L1049.9,384.0 L1049.9,386.9 M1053.8,395.5 L1054.3,395.5 M1057.5,405.0 L1057.5,407.9 L1058.9,407.9 L1058.9,411.6 L1059.6,411.6 M1062.2,419.7 L1062.7,419.7 M1064.4,429.0 L1064.4,430.7 L1064.4,436.2 L1064.9,436.2 L1064.9,437.2 M1068.0,445.7 L1068.5,445.7 M1071.0,455.2 L1073.7,455.2 L1073.7,460.7 L1074.0,460.7 L1074.0,460.9 M1077.6,469.7 L1078.1,469.7 M1083.0,477.5 L1083.0,478.3 L1086.0,478.3 L1086.0,480.6 L1086.2,480.6 L1086.2,480.8 L1088.4,480.8 M1095.2,484.6 L1095.7,484.6 M1103.0,488.3 L1104.0,488.3 L1104.0,489.0 L1107.0,489.0 L1107.0,490.2 L1108.5,490.2 L1108.5,490.8 L1109.2,490.8 M1117.8,493.9 L1118.3,493.9 M1126.5,497.6 L1128.0,497.6 L1128.0,499.1 L1131.0,499.1 L1131.0,500.6 L1131.3,500.6 L1131.3,500.7 L1132.1,500.7 M1140.1,503.9 L1140.1,504.2 L1140.3,504.2 M1148.0,508.0 L1149.1,508.0 L1149.1,509.5 L1152.1,509.5 L1152.1,511.5 L1153.1,511.5 L1153.1,511.6 M1160.0,516.3 L1160.5,516.3 M1167.8,520.9 L1170.1,520.9 L1170.1,523.3 L1171.7,523.3 L1171.7,524.6 L1172.8,524.6 M1180.0,528.8 L1180.5,528.8 M1186.5,534.4 L1188.1,534.4 L1188.1,535.4 L1190.7,535.4 L1190.7,536.4 L1191.2,536.4 L1191.2,536.8 L1192.8,536.8 M1198.3,542.4 L1198.8,542.4 M1204.0,548.5 L1206.2,548.5 L1206.2,550.9 L1207.8,550.9 L1207.8,552.2 L1209.0,552.2 M1214.8,557.8 L1215.2,557.8 L1215.2,557.9 M1220.2,564.6 L1221.2,564.6 L1221.2,566.4 L1223.5,566.4 L1223.5,568.8 L1224.2,568.8 L1224.2,569.3 M1230.0,575.4 L1230.2,575.4 L1230.2,575.7 M1235.0,583.1 L1236.2,583.1 L1236.2,584.8 L1238.5,584.8 L1238.5,586.8 L1239.2,586.8 L1239.2,587.6 M1244.9,593.7 L1245.2,593.7 L1245.2,593.8 M1251.2,599.9 L1251.2,600.1 L1254.3,600.1 L1254.3,601.9 L1255.1,601.9 L1255.1,602.4 L1257.3,602.4 L1257.3,602.6 M1266.0,604.9 L1266.3,604.9 L1266.3,605.1 M1276.0,606.7 L1278.3,606.7 L1278.3,607.0 L1281.3,607.0 L1281.3,607.4 L1283.1,607.4 L1283.1,607.6 L1283.8,607.6 M1294.9,608.2 L1295.4,608.2 M1306.0,609.7 L1308.3,609.7 L1308.3,610.0 L1311.3,610.0 L1311.3,610.2 L1314.3,610.2 M1324.6,611.0 L1325.1,611.0 M1336.2,611.3 L1344.9,611.3 M1356.1,611.3 L1356.6,611.3 M1368.0,611.3 L1376.7,611.3 M1387.9,611.3 L1388.4,611.3 M1399.8,611.3 L1407.0,611.3" fill="none" stroke="#ed7d31" stroke-width="2.8" stroke-linecap="round" stroke-linejoin="round"/>
</g>
<rect x="353.5" y="17.5" width="343" height="90" fill="#fff"/>
<rect x="358.5" y="22.5" width="339" height="86" fill="#000"/>
<rect x="355.5" y="19.5" width="339" height="86" fill="#fff" stroke="#404040" stroke-width="1"/>
<line x1="369.0" y1="30.60" x2="400.2" y2="30.60" stroke="#0070c0" stroke-width="3" stroke-linecap="round"/>
<text x="405" y="37.20" xml:space="preserve">MG 7  (crosswind velocity=10m/s)</text>
<line x1="369.0" y1="52.00" x2="400.2" y2="52.00" stroke="#ff0000" stroke-width="3" stroke-linecap="round"/>
<text x="405" y="58.60" xml:space="preserve">MG 8 (crosswind velocity=10m/s)</text>
<line x1="369.0" y1="73.40" x2="377.0" y2="73.40" stroke="#0070c0" stroke-width="3" stroke-linecap="round"/>
<circle cx="389.0" cy="73.40" r="1.4" fill="#0070c0"/>
<text x="405" y="80.00" xml:space="preserve">MG 7  (crosswind velocity=20m/s)</text>
<line x1="369.0" y1="94.80" x2="377.0" y2="94.80" stroke="#ff0000" stroke-width="3" stroke-linecap="round"/>
<circle cx="389.0" cy="94.80" r="1.4" fill="#ff0000"/>
<text x="405" y="101.40" xml:space="preserve">MG 8 (crosswind velocity=20m/s)</text>
<rect x="1056.5" y="20.5" width="348" height="88" fill="#fff"/>
<rect x="1061.5" y="25.5" width="344" height="84" fill="#000"/>
<rect x="1058.5" y="22.5" width="344" height="84" fill="#fff" stroke="#404040" stroke-width="1"/>
<line x1="1069.3" y1="32.80" x2="1100.2" y2="32.80" stroke="#00b050" stroke-width="3" stroke-linecap="round"/>
<text x="1105.2" y="39.30" xml:space="preserve">MG 11 (crosswind velocity=10m/s)</text>
<line x1="1069.3" y1="54.00" x2="1100.2" y2="54.00" stroke="#ed7d31" stroke-width="3" stroke-linecap="round"/>
<text x="1105.2" y="60.50" xml:space="preserve">MG 14 (crosswind velocity=10m/s)</text>
<line x1="1069.3" y1="75.20" x2="1077.3" y2="75.20" stroke="#00b050" stroke-width="3" stroke-linecap="round"/>
<circle cx="1089.3" cy="75.20" r="1.4" fill="#00b050"/>
<text x="1105.2" y="81.70" xml:space="preserve">MG 11  (crosswind velocity=20m/s)</text>
<line x1="1069.3" y1="96.40" x2="1077.3" y2="96.40" stroke="#ed7d31" stroke-width="3" stroke-linecap="round"/>
<circle cx="1089.3" cy="96.40" r="1.4" fill="#ed7d31"/>
<text x="1105.2" y="102.90" xml:space="preserve">MG 14  (crosswind velocity=20m/s)</text>
<rect x="87" y="440" width="254.5" height="169.2" fill="#333" filter="url(#sh)"/>
<clipPath id="ic87"><rect x="0" y="0" width="321.6" height="213.4"/></clipPath>
<g transform="translate(87,440) scale(0.79136,0.79288)" clip-path="url(#ic87)">
<rect x="0" y="0" width="321.6" height="213.4" fill="#4e4e4e"/>
<polygon points="0.0,127.0 175.0,120.5 321.6,131.0 321.6,213.4 0.0,213.4" fill="#000033"/>
<polygon points="0.0,135.5 43.0,134.0 173.5,127.0 206.7,130.0 260.0,139.5 314.8,148.5 314.8,152.5 3.0,186.0 0.0,183.0" fill="#006a6a"/>
<polygon points="206.7,130.0 260.0,139.5 314.8,148.5 314.8,151.0 260.0,142.5 206.7,132.5" fill="#00a828"/>
<line x1="0" y1="150" x2="6" y2="188" stroke="#001a3a" stroke-width="1.8"/>
<line x1="-0.9" y1="150.4" x2="5.1" y2="188.4" stroke="#00c0d0" stroke-width="0.6"/>
<line x1="25" y1="135.5" x2="30" y2="140" stroke="#001a3a" stroke-width="1.8"/>
<line x1="24.1" y1="135.9" x2="29.1" y2="140.4" stroke="#00c0d0" stroke-width="0.6"/>
<line x1="33" y1="137" x2="37" y2="141.5" stroke="#001a3a" stroke-width="1.8"/>
<line x1="32.1" y1="137.4" x2="36.1" y2="141.9" stroke="#00c0d0" stroke-width="0.6"/>
<line x1="45.6" y1="144.9" x2="49" y2="148" stroke="#001a3a" stroke-width="1.8"/>
<line x1="44.7" y1="145.3" x2="48.1" y2="148.4" stroke="#00c0d0" stroke-width="0.6"/>
<line x1="57" y1="150" x2="62" y2="155" stroke="#001a3a" stroke-width="1.8"/>
<line x1="56.1" y1="150.4" x2="61.1" y2="155.4" stroke="#00c0d0" stroke-width="0.6"/>
<line x1="76" y1="156" x2="90.1" y2="172.8" stroke="#001a3a" stroke-width="1.8"/>
<line x1="75.1" y1="156.4" x2="89.19999999999999" y2="173.20000000000002" stroke="#00c0d0" stroke-width="0.6"/>
<line x1="75.9" y1="135" x2="80" y2="139" stroke="#001a3a" stroke-width="1.8"/>
<line x1="75.0" y1="135.4" x2="79.1" y2="139.4" stroke="#00c0d0" stroke-width="0.6"/>
<line x1="116.6" y1="131" x2="121.9" y2="135.2" stroke="#001a3a" stroke-width="1.8"/>
<line x1="115.69999999999999" y1="131.4" x2="121.0" y2="135.6" stroke="#00c0d0" stroke-width="0.6"/>
<line x1="114.2" y1="142.9" x2="121.9" y2="151.2" stroke="#001a3a" stroke-width="1.8"/>
<line x1="113.3" y1="143.3" x2="121.0" y2="151.6" stroke="#00c0d0" stroke-width="0.6"/>
<line x1="137.9" y1="135.2" x2="142.1" y2="139.9" stroke="#001a3a" stroke-width="1.8"/>
<line x1="137.0" y1="135.6" x2="141.2" y2="140.3" stroke="#00c0d0" stroke-width="0.6"/>
<line x1="140.3" y1="150.6" x2="158.1" y2="165.4" stroke="#001a3a" stroke-width="1.8"/>
<line x1="139.4" y1="151.0" x2="157.2" y2="165.8" stroke="#00c0d0" stroke-width="0.6"/>
<line x1="159.9" y1="139.9" x2="169.3" y2="147" stroke="#001a3a" stroke-width="1.8"/>
<line x1="159.0" y1="140.3" x2="168.4" y2="147.4" stroke="#00c0d0" stroke-width="0.6"/>
<line x1="175.9" y1="132.2" x2="180.6" y2="137" stroke="#001a3a" stroke-width="1.8"/>
<line x1="175.0" y1="132.6" x2="179.7" y2="137.4" stroke="#00c0d0" stroke-width="0.6"/>
<line x1="191.3" y1="145.9" x2="208.4" y2="157.7" stroke="#001a3a" stroke-width="1.8"/>
<line x1="190.4" y1="146.3" x2="207.5" y2="158.1" stroke="#00c0d0" stroke-width="0.6"/>
<line x1="200.7" y1="137" x2="210.2" y2="142.9" stroke="#001a3a" stroke-width="1.8"/>
<line x1="199.79999999999998" y1="137.4" x2="209.29999999999998" y2="143.3" stroke="#00c0d0" stroke-width="0.6"/>
<line x1="232.7" y1="141.7" x2="252.3" y2="152.4" stroke="#001a3a" stroke-width="1.8"/>
<line x1="231.79999999999998" y1="142.1" x2="251.4" y2="152.8" stroke="#00c0d0" stroke-width="0.6"/>
<line x1="231.7" y1="142.1" x2="251.9" y2="152.8" stroke="#001a3a" stroke-width="1.8"/>
<line x1="230.79999999999998" y1="142.5" x2="251.0" y2="153.20000000000002" stroke="#00c0d0" stroke-width="0.6"/>
<line x1="270" y1="146" x2="285" y2="152" stroke="#001a3a" stroke-width="1.8"/>
<line x1="269.1" y1="146.4" x2="284.1" y2="152.4" stroke="#00c0d0" stroke-width="0.6"/>
<line x1="12" y1="137" x2="18" y2="142" stroke="#001a3a" stroke-width="1.8"/>
<line x1="11.1" y1="137.4" x2="17.1" y2="142.4" stroke="#00c0d0" stroke-width="0.6"/>
<rect x="44" y="145" width="4.5" height="2.6" fill="#00d020" transform="rotate(32 44 145)"/>
<rect x="59" y="153" width="4.5" height="2.6" fill="#00d020" transform="rotate(32 59 153)"/>
<rect x="79" y="161.5" width="4.5" height="2.6" fill="#00d020" transform="rotate(32 79 161.5)"/>
<rect x="117" y="145" width="4.5" height="2.6" fill="#00d020" transform="rotate(32 117 145)"/>
<rect x="163" y="142.5" width="4.5" height="2.6" fill="#00d020" transform="rotate(32 163 142.5)"/>
<rect x="203" y="139.5" width="4.5" height="2.6" fill="#00d020" transform="rotate(32 203 139.5)"/>
<rect x="0" y="168" width="4.5" height="2.6" fill="#00d020" transform="rotate(32 0 168)"/>
<rect x="143" y="136.5" width="4.5" height="2.6" fill="#00d020" transform="rotate(32 143 136.5)"/>
<polygon points="46.4,177.1 49.6,177.1 45.3,169.2 32.2,150.7" fill="#000a30"/>
<line x1="49.6" y1="177.1" x2="38.2" y2="155.9" stroke="#00b0c0" stroke-width="0.7"/>
<polygon points="89.5,171.5 92.5,171.5 85.8,163.8 67.1,145.9" fill="#000a30"/>
<line x1="92.5" y1="171.5" x2="74.6" y2="151.0" stroke="#00b0c0" stroke-width="0.7"/>
<polygon points="127.7,166.9 130.3,166.9 123.4,161.1 104.7,147.6" fill="#000a30"/>
<line x1="130.3" y1="166.9" x2="111.9" y2="151.5" stroke="#00b0c0" stroke-width="0.7"/>
<polygon points="160.9,163.1 163.1,163.1 156.6,158.7 139.4,148.5" fill="#000a30"/>
<line x1="163.1" y1="163.1" x2="145.9" y2="151.4" stroke="#00b0c0" stroke-width="0.7"/>
<polygon points="191.0,159.6 193.0,159.6 187.3,156.3 171.9,148.7" fill="#000a30"/>
<line x1="193.0" y1="159.6" x2="177.7" y2="150.9" stroke="#00b0c0" stroke-width="0.7"/>
<polygon points="217.6,156.5 219.4,156.5 214.0,153.8 199.7,147.6" fill="#000a30"/>
<line x1="219.4" y1="156.5" x2="205.1" y2="149.4" stroke="#00b0c0" stroke-width="0.7"/>
<polygon points="243.2,153.5 244.8,153.5 239.9,151.4 226.7,146.3" fill="#000a30"/>
<line x1="244.8" y1="153.5" x2="231.6" y2="147.8" stroke="#00b0c0" stroke-width="0.7"/>
<polygon points="3.0,185.9 46.0,180.3 46.0,188.4 3.0,194.5" fill="#00e61e"/>
<polygon points="1.5,181.8 44.5,176.3 46.0,180.3 3.0,185.9" fill="#004810"/>
<polygon points="50.0,179.8 90.0,174.6 90.0,182.1 50.0,187.8" fill="#00e61e"/>
<polygon points="48.5,175.8 88.5,170.8 90.0,174.6 50.0,179.8" fill="#004810"/>
<polygon points="92.0,174.3 128.5,170.0 128.5,176.9 92.0,181.8" fill="#00e61e"/>
<polygon points="90.5,170.6 127.0,166.3 128.5,170.0 92.0,174.3" fill="#004810"/>
<polygon points="129.5,169.8 161.5,166.1 161.5,172.7 129.5,176.8" fill="#00e61e"/>
<polygon points="128.0,166.2 160.0,162.7 161.5,166.1 129.5,169.8" fill="#004810"/>
<polygon points="162.5,166.0 191.5,162.6 191.5,168.8 162.5,172.5" fill="#00e61e"/>
<polygon points="161.0,162.5 190.0,159.3 191.5,162.6 162.5,166.0" fill="#004810"/>
<polygon points="192.5,162.5 218.0,159.6 218.0,165.4 192.5,168.7" fill="#00e61e"/>
<polygon points="191.0,159.2 216.5,156.3 218.0,159.6 192.5,162.5" fill="#004810"/>
<polygon points="219.0,159.4 243.5,156.6 243.5,162.1 219.0,165.2" fill="#00e61e"/>
<polygon points="217.5,156.2 242.0,153.5 243.5,156.6 219.0,159.4" fill="#004810"/>
<polygon points="244.5,156.5 264.5,154.2 264.5,159.4 244.5,162.0" fill="#00e61e"/>
<polygon points="243.0,153.4 263.0,151.1 264.5,154.2 244.5,156.5" fill="#004810"/>
<polygon points="265.5,154.0 284.0,151.9 284.0,156.9 265.5,159.3" fill="#00e61e"/>
<polygon points="264.0,151.0 282.5,149.0 284.0,151.9 265.5,154.0" fill="#004810"/>
<polygon points="285.0,151.8 301.6,149.8 301.6,154.6 285.0,156.7" fill="#00e61e"/>
<polygon points="283.5,148.9 300.1,147.0 301.6,149.8 285.0,151.8" fill="#004810"/>
<polygon points="302.8,149.7 314.8,148.3 314.8,152.9 302.8,154.4" fill="#00e61e"/>
<polygon points="301.3,146.9 313.3,145.5 314.8,148.3 302.8,149.7" fill="#004810"/>
<polygon points="0.0,166.5 3.5,166.0 3.5,172.5 0.0,173.0" fill="#00e61e"/>
<polygon points="0.0,187.0 2.0,186.5 2.0,190.6 0.0,191.0" fill="#00c8d8"/>
<polygon points="43.3,119.3 173.0,118.8 173.0,121.5 60.7,123.3" fill="#008080"/>
<polygon points="43.3,119.3 60.7,123.3 60.7,132.7 43.3,131.0" fill="#00b4b4"/>
<polygon points="60.7,123.3 173.0,121.5 173.0,129.0 60.7,132.7" fill="#00e4e4"/>
<polygon points="68.7,71.7 86.7,68.7 86.7,121.7 68.7,118.3" fill="#a80000"/>
<polygon points="86.7,68.7 125.3,69.6 125.3,121.2 86.7,121.7" fill="#e00000"/>
<polygon points="112.7,72.0 125.3,72.0 125.3,101.0 112.7,101.0" fill="#c80000"/>
<polygon points="86.7,72.3 112.7,72.3 112.7,95.0 86.7,95.0" fill="#0a96dc"/>
<polygon points="125.3,70.3 134.0,70.3 134.0,119.8 125.3,120.5" fill="#a00000"/>
<polygon points="134.0,70.3 168.0,70.3 168.0,119.7 134.0,119.8" fill="#e00000"/>
<polygon points="86.7,68.4 100.0,67.8 134.0,70.0 125.3,71.0 86.7,72.3" fill="#100000"/>
<polygon points="185.1,112.5 192.0,111.9 192.0,130.1 185.1,130.1" fill="#a8a400"/>
<polygon points="192.0,111.9 197.7,112.5 197.7,129.6 192.0,130.1" fill="#e8e400"/>
<polygon points="286.5,119.5 301.0,118.8 301.0,145.9 286.5,145.2" fill="#a8a400"/>
<polygon points="301.0,118.8 306.6,119.5 306.6,145.0 301.0,145.9" fill="#ece800"/>
<polygon points="283.0,145.0 310.0,145.5 314.0,148.0 290.0,148.0" fill="#00a020"/>
<circle cx="32.6" cy="33.5" r="3.4" fill="#d2d2d2"/>
<circle cx="72.9" cy="44.8" r="3.4" fill="#d2d2d2"/>
<circle cx="11.6" cy="56.1" r="3.4" fill="#d2d2d2"/>
<circle cx="61" cy="58.7" r="3.4" fill="#d2d2d2"/>
<circle cx="105.2" cy="52.3" r="3.4" fill="#d2d2d2"/>
<circle cx="103" cy="61.6" r="3.4" fill="#d2d2d2"/>
<circle cx="140.1" cy="64.5" r="3.4" fill="#d2d2d2"/>
<circle cx="156.3" cy="59.4" r="3.4" fill="#d2d2d2"/>
<circle cx="175" cy="65.8" r="3.4" fill="#d2d2d2"/>
<circle cx="199.9" cy="62.6" r="3.4" fill="#d2d2d2"/>
<circle cx="230.6" cy="58.4" r="3.4" fill="#d2d2d2"/>
<circle cx="270.3" cy="53.6" r="3.4" fill="#d2d2d2"/>
<circle cx="120.3" cy="78.7" r="3.4" fill="#d2d2d2"/>
<circle cx="120.3" cy="88.4" r="3.4" fill="#d2d2d2"/>
<circle cx="12.5" cy="98.1" r="3.4" fill="#d2d2d2"/>
<circle cx="33.5" cy="98.1" r="3.4" fill="#d2d2d2"/>
<circle cx="61" cy="98.1" r="3.4" fill="#d2d2d2"/>
<circle cx="72.9" cy="98.1" r="3.4" fill="#d2d2d2"/>
<circle cx="103.9" cy="98.1" r="3.4" fill="#d2d2d2"/>
<circle cx="105.5" cy="98.1" r="3.4" fill="#d2d2d2"/>
<circle cx="120.3" cy="98.1" r="3.4" fill="#d2d2d2"/>
<circle cx="140.1" cy="98.1" r="3.4" fill="#d2d2d2"/>
<circle cx="156.3" cy="98.1" r="3.4" fill="#d2d2d2"/>
<circle cx="175" cy="98.1" r="3.4" fill="#d2d2d2"/>
<circle cx="199.9" cy="98.1" r="3.4" fill="#d2d2d2"/>
<circle cx="229.9" cy="98.1" r="3.4" fill="#d2d2d2"/>
<circle cx="269.3" cy="98.1" r="3.4" fill="#d2d2d2"/>
<circle cx="12.5" cy="139.1" r="3.4" fill="#d2d2d2"/>
<circle cx="61.6" cy="136.9" r="3.4" fill="#d2d2d2"/>
<circle cx="103.3" cy="133.7" r="3.4" fill="#d2d2d2"/>
<circle cx="140.1" cy="131.4" r="3.4" fill="#d2d2d2"/>
<circle cx="174.4" cy="129.5" r="3.4" fill="#d2d2d2"/>
<circle cx="198.9" cy="133" r="3.4" fill="#d2d2d2"/>
<circle cx="229.3" cy="137.9" r="3.4" fill="#d2d2d2"/>
<circle cx="268.7" cy="144" r="3.4" fill="#d2d2d2"/>
<circle cx="156.3" cy="136.9" r="3.4" fill="#d2d2d2"/>
<circle cx="104.6" cy="143.3" r="3.4" fill="#d2d2d2"/>
<circle cx="72.9" cy="151.7" r="3.4" fill="#d2d2d2"/>
<circle cx="34.2" cy="162.1" r="3.4" fill="#d2d2d2"/>
<text x="16.7" y="31.9" class="mono" style="font-size:7.4px;fill:#dcdcdc">M43</text>
<text x="56.8" y="42.6" class="mono" style="font-size:7.4px;fill:#dcdcdc">M40</text>
<text x="-0.4" y="53.6" class="mono" style="font-size:7.4px;fill:#dcdcdc">28</text>
<text x="44.8" y="57.1" class="mono" style="font-size:7.4px;fill:#dcdcdc">M25</text>
<text x="89.4" y="50.3" class="mono" style="font-size:7.4px;fill:#dcdcdc">M37</text>
<text x="87.8" y="60" class="mono" style="font-size:7.4px;fill:#dcdcdc">M22</text>
<text x="125.6" y="62.6" class="mono" style="font-size:7.4px;fill:#dcdcdc">M17</text>
<text x="141.7" y="57.8" class="mono" style="font-size:7.4px;fill:#dcdcdc">M34</text>
<text x="162.7" y="64.2" class="mono" style="font-size:7.4px;fill:#dcdcdc">M7</text>
<text x="187.9" y="61" class="mono" style="font-size:7.4px;fill:#dcdcdc">M8</text>
<text x="217.6" y="56.8" class="mono" style="font-size:7.4px;fill:#dcdcdc">M11</text>
<text x="258" y="51.3" class="mono" style="font-size:7.4px;fill:#dcdcdc">M14</text>
<text x="107.8" y="77.1" class="mono" style="font-size:7.4px;fill:#dcdcdc">M4</text>
<text x="107.8" y="86.8" class="mono" style="font-size:7.4px;fill:#dcdcdc">M1</text>
<text x="-0.4" y="97.2" class="mono" style="font-size:7.4px;fill:#dcdcdc">27</text>
<text x="17.4" y="97.2" class="mono" style="font-size:7.4px;fill:#dcdcdc">M42</text>
<text x="45.8" y="97.2" class="mono" style="font-size:7.4px;fill:#dcdcdc">M24</text>
<text x="57.8" y="97.2" class="mono" style="font-size:7.4px;fill:#dcdcdc">M39</text>
<text x="86.4" y="97.2" class="mono" style="font-size:7.4px;fill:#dcdcdc">MM36</text>
<text x="107.8" y="97.2" class="mono" style="font-size:7.4px;fill:#dcdcdc">M3</text>
<text x="125.6" y="97.2" class="mono" style="font-size:7.4px;fill:#dcdcdc">M10</text>
<text x="141.7" y="97.2" class="mono" style="font-size:7.4px;fill:#dcdcdc">M33</text>
<text x="162.7" y="97.2" class="mono" style="font-size:7.4px;fill:#dcdcdc">M6</text>
<text x="187.9" y="97.2" class="mono" style="font-size:7.4px;fill:#dcdcdc">M9</text>
<text x="217" y="97.2" class="mono" style="font-size:7.4px;fill:#dcdcdc">M12</text>
<text x="257.4" y="97.2" class="mono" style="font-size:7.4px;fill:#dcdcdc">M15</text>
<text x="-0.4" y="140" class="mono" style="font-size:7.4px;fill:#dcdcdc">M26</text>
<text x="45.8" y="136.2" class="mono" style="font-size:7.4px;fill:#dcdcdc">M23</text>
<text x="87.8" y="133.7" class="mono" style="font-size:7.4px;fill:#dcdcdc">M20</text>
<text x="125.6" y="131" class="mono" style="font-size:7.4px;fill:#dcdcdc">M19</text>
<text x="162.7" y="128.8" class="mono" style="font-size:7.4px;fill:#dcdcdc">M5</text>
<text x="184.7" y="133" class="mono" style="font-size:7.4px;fill:#dcdcdc">M21</text>
<text x="217" y="137.5" class="mono" style="font-size:7.4px;fill:#dcdcdc">M13</text>
<text x="256.4" y="144" class="mono" style="font-size:7.4px;fill:#dcdcdc">M16</text>
<text x="141.7" y="136.2" class="mono" style="font-size:7.4px;fill:#dcdcdc">M32</text>
<text x="89.4" y="142.7" class="mono" style="font-size:7.4px;fill:#dcdcdc">M35</text>
<text x="57.8" y="151.4" class="mono" style="font-size:7.4px;fill:#dcdcdc">M38</text>
<text x="19" y="162" class="mono" style="font-size:7.4px;fill:#dcdcdc">M41</text>
<path d="M162,52 L205,46.5 Q210,46 210.4,51 L211,67 Q211.2,72 206,72.6 L165,79 Q160.5,79.6 160,75 L157.3,58 Q157,52.7 162,52 Z" fill="none" stroke="#f00000" stroke-width="3.9" stroke-dasharray="9.4 7.3" stroke-linecap="round"/>
</g>
<rect x="1080" y="127" width="321.6" height="213.4" fill="#333" filter="url(#sh)"/>
<clipPath id="ic1080"><rect x="0" y="0" width="321.6" height="213.4"/></clipPath>
<g transform="translate(1080,127) scale(1.00000,1.00000)" clip-path="url(#ic1080)">
<rect x="0" y="0" width="321.6" height="213.4" fill="#4e4e4e"/>
<polygon points="0.0,127.0 175.0,120.5 321.6,131.0 321.6,213.4 0.0,213.4" fill="#000033"/>
<polygon points="0.0,135.5 43.0,134.0 173.5,127.0 206.7,130.0 260.0,139.5 314.8,148.5 314.8,152.5 3.0,186.0 0.0,183.0" fill="#006a6a"/>
<polygon points="206.7,130.0 260.0,139.5 314.8,148.5 314.8,151.0 260.0,142.5 206.7,132.5" fill="#00a828"/>
<line x1="0" y1="150" x2="6" y2="188" stroke="#001a3a" stroke-width="1.8"/>
<line x1="-0.9" y1="150.4" x2="5.1" y2="188.4" stroke="#00c0d0" stroke-width="0.6"/>
<line x1="25" y1="135.5" x2="30" y2="140" stroke="#001a3a" stroke-width="1.8"/>
<line x1="24.1" y1="135.9" x2="29.1" y2="140.4" stroke="#00c0d0" stroke-width="0.6"/>
<line x1="33" y1="137" x2="37" y2="141.5" stroke="#001a3a" stroke-width="1.8"/>
<line x1="32.1" y1="137.4" x2="36.1" y2="141.9" stroke="#00c0d0" stroke-width="0.6"/>
<line x1="45.6" y1="144.9" x2="49" y2="148" stroke="#001a3a" stroke-width="1.8"/>
<line x1="44.7" y1="145.3" x2="48.1" y2="148.4" stroke="#00c0d0" stroke-width="0.6"/>
<line x1="57" y1="150" x2="62" y2="155" stroke="#001a3a" stroke-width="1.8"/>
<line x1="56.1" y1="150.4" x2="61.1" y2="155.4" stroke="#00c0d0" stroke-width="0.6"/>
<line x1="76" y1="156" x2="90.1" y2="172.8" stroke="#001a3a" stroke-width="1.8"/>
<line x1="75.1" y1="156.4" x2="89.19999999999999" y2="173.20000000000002" stroke="#00c0d0" stroke-width="0.6"/>
<line x1="75.9" y1="135" x2="80" y2="139" stroke="#001a3a" stroke-width="1.8"/>
<line x1="75.0" y1="135.4" x2="79.1" y2="139.4" stroke="#00c0d0" stroke-width="0.6"/>
<line x1="116.6" y1="131" x2="121.9" y2="135.2" stroke="#001a3a" stroke-width="1.8"/>
<line x1="115.69999999999999" y1="131.4" x2="121.0" y2="135.6" stroke="#00c0d0" stroke-width="0.6"/>
<line x1="114.2" y1="142.9" x2="121.9" y2="151.2" stroke="#001a3a" stroke-width="1.8"/>
<line x1="113.3" y1="143.3" x2="121.0" y2="151.6" stroke="#00c0d0" stroke-width="0.6"/>
<line x1="137.9" y1="135.2" x2="142.1" y2="139.9" stroke="#001a3a" stroke-width="1.8"/>
<line x1="137.0" y1="135.6" x2="141.2" y2="140.3" stroke="#00c0d0" stroke-width="0.6"/>
<line x1="140.3" y1="150.6" x2="158.1" y2="165.4" stroke="#001a3a" stroke-width="1.8"/>
<line x1="139.4" y1="151.0" x2="157.2" y2="165.8" stroke="#00c0d0" stroke-width="0.6"/>
<line x1="159.9" y1="139.9" x2="169.3" y2="147" stroke="#001a3a" stroke-width="1.8"/>
<line x1="159.0" y1="140.3" x2="168.4" y2="147.4" stroke="#00c0d0" stroke-width="0.6"/>
<line x1="175.9" y1="132.2" x2="180.6" y2="137" stroke="#001a3a" stroke-width="1.8"/>
<line x1="175.0" y1="132.6" x2="179.7" y2="137.4" stroke="#00c0d0" stroke-width="0.6"/>
<line x1="191.3" y1="145.9" x2="208.4" y2="157.7" stroke="#001a3a" stroke-width="1.8"/>
<line x1="190.4" y1="146.3" x2="207.5" y2="158.1" stroke="#00c0d0" stroke-width="0.6"/>
<line x1="200.7" y1="137" x2="210.2" y2="142.9" stroke="#001a3a" stroke-width="1.8"/>
<line x1="199.79999999999998" y1="137.4" x2="209.29999999999998" y2="143.3" stroke="#00c0d0" stroke-width="0.6"/>
<line x1="232.7" y1="141.7" x2="252.3" y2="152.4" stroke="#001a3a" stroke-width="1.8"/>
<line x1="231.79999999999998" y1="142.1" x2="251.4" y2="152.8" stroke="#00c0d0" stroke-width="0.6"/>
<line x1="231.7" y1="142.1" x2="251.9" y2="152.8" stroke="#001a3a" stroke-width="1.8"/>
<line x1="230.79999999999998" y1="142.5" x2="251.0" y2="153.20000000000002" stroke="#00c0d0" stroke-width="0.6"/>
<line x1="270" y1="146" x2="285" y2="152" stroke="#001a3a" stroke-width="1.8"/>
<line x1="269.1" y1="146.4" x2="284.1" y2="152.4" stroke="#00c0d0" stroke-width="0.6"/>
<line x1="12" y1="137" x2="18" y2="142" stroke="#001a3a" stroke-width="1.8"/>
<line x1="11.1" y1="137.4" x2="17.1" y2="142.4" stroke="#00c0d0" stroke-width="0.6"/>
<rect x="44" y="145" width="4.5" height="2.6" fill="#00d020" transform="rotate(32 44 145)"/>
<rect x="59" y="153" width="4.5" height="2.6" fill="#00d020" transform="rotate(32 59 153)"/>
<rect x="79" y="161.5" width="4.5" height="2.6" fill="#00d020" transform="rotate(32 79 161.5)"/>
<rect x="117" y="145" width="4.5" height="2.6" fill="#00d020" transform="rotate(32 117 145)"/>
<rect x="163" y="142.5" width="4.5" height="2.6" fill="#00d020" transform="rotate(32 163 142.5)"/>
<rect x="203" y="139.5" width="4.5" height="2.6" fill="#00d020" transform="rotate(32 203 139.5)"/>
<rect x="0" y="168" width="4.5" height="2.6" fill="#00d020" transform="rotate(32 0 168)"/>
<rect x="143" y="136.5" width="4.5" height="2.6" fill="#00d020" transform="rotate(32 143 136.5)"/>
<polygon points="46.4,177.1 49.6,177.1 45.3,169.2 32.2,150.7" fill="#000a30"/>
<line x1="49.6" y1="177.1" x2="38.2" y2="155.9" stroke="#00b0c0" stroke-width="0.7"/>
<polygon points="89.5,171.5 92.5,171.5 85.8,163.8 67.1,145.9" fill="#000a30"/>
<line x1="92.5" y1="171.5" x2="74.6" y2="151.0" stroke="#00b0c0" stroke-width="0.7"/>
<polygon points="127.7,166.9 130.3,166.9 123.4,161.1 104.7,147.6" fill="#000a30"/>
<line x1="130.3" y1="166.9" x2="111.9" y2="151.5" stroke="#00b0c0" stroke-width="0.7"/>
<polygon points="160.9,163.1 163.1,163.1 156.6,158.7 139.4,148.5" fill="#000a30"/>
<line x1="163.1" y1="163.1" x2="145.9" y2="151.4" stroke="#00b0c0" stroke-width="0.7"/>
<polygon points="191.0,159.6 193.0,159.6 187.3,156.3 171.9,148.7" fill="#000a30"/>
<line x1="193.0" y1="159.6" x2="177.7" y2="150.9" stroke="#00b0c0" stroke-width="0.7"/>
<polygon points="217.6,156.5 219.4,156.5 214.0,153.8 199.7,147.6" fill="#000a30"/>
<line x1="219.4" y1="156.5" x2="205.1" y2="149.4" stroke="#00b0c0" stroke-width="0.7"/>
<polygon points="243.2,153.5 244.8,153.5 239.9,151.4 226.7,146.3" fill="#000a30"/>
<line x1="244.8" y1="153.5" x2="231.6" y2="147.8" stroke="#00b0c0" stroke-width="0.7"/>
<polygon points="3.0,185.9 46.0,180.3 46.0,188.4 3.0,194.5" fill="#00e61e"/>
<polygon points="1.5,181.8 44.5,176.3 46.0,180.3 3.0,185.9" fill="#004810"/>
<polygon points="50.0,179.8 90.0,174.6 90.0,182.1 50.0,187.8" fill="#00e61e"/>
<polygon points="48.5,175.8 88.5,170.8 90.0,174.6 50.0,179.8" fill="#004810"/>
<polygon points="92.0,174.3 128.5,170.0 128.5,176.9 92.0,181.8" fill="#00e61e"/>
<polygon points="90.5,170.6 127.0,166.3 128.5,170.0 92.0,174.3" fill="#004810"/>
<polygon points="129.5,169.8 161.5,166.1 161.5,172.7 129.5,176.8" fill="#00e61e"/>
<polygon points="128.0,166.2 160.0,162.7 161.5,166.1 129.5,169.8" fill="#004810"/>
<polygon points="162.5,166.0 191.5,162.6 191.5,168.8 162.5,172.5" fill="#00e61e"/>
<polygon points="161.0,162.5 190.0,159.3 191.5,162.6 162.5,166.0" fill="#004810"/>
<polygon points="192.5,162.5 218.0,159.6 218.0,165.4 192.5,168.7" fill="#00e61e"/>
<polygon points="191.0,159.2 216.5,156.3 218.0,159.6 192.5,162.5" fill="#004810"/>
<polygon points="219.0,159.4 243.5,156.6 243.5,162.1 219.0,165.2" fill="#00e61e"/>
<polygon points="217.5,156.2 242.0,153.5 243.5,156.6 219.0,159.4" fill="#004810"/>
<polygon points="244.5,156.5 264.5,154.2 264.5,159.4 244.5,162.0" fill="#00e61e"/>
<polygon points="243.0,153.4 263.0,151.1 264.5,154.2 244.5,156.5" fill="#004810"/>
<polygon points="265.5,154.0 284.0,151.9 284.0,156.9 265.5,159.3" fill="#00e61e"/>
<polygon points="264.0,151.0 282.5,149.0 284.0,151.9 265.5,154.0" fill="#004810"/>
<polygon points="285.0,151.8 301.6,149.8 301.6,154.6 285.0,156.7" fill="#00e61e"/>
<polygon points="283.5,148.9 300.1,147.0 301.6,149.8 285.0,151.8" fill="#004810"/>
<polygon points="302.8,149.7 314.8,148.3 314.8,152.9 302.8,154.4" fill="#00e61e"/>
<polygon points="301.3,146.9 313.3,145.5 314.8,148.3 302.8,149.7" fill="#004810"/>
<polygon points="0.0,166.5 3.5,166.0 3.5,172.5 0.0,173.0" fill="#00e61e"/>
<polygon points="0.0,187.0 2.0,186.5 2.0,190.6 0.0,191.0" fill="#00c8d8"/>
<polygon points="43.3,119.3 173.0,118.8 173.0,121.5 60.7,123.3" fill="#008080"/>
<polygon points="43.3,119.3 60.7,123.3 60.7,132.7 43.3,131.0" fill="#00b4b4"/>
<polygon points="60.7,123.3 173.0,121.5 173.0,129.0 60.7,132.7" fill="#00e4e4"/>
<polygon points="68.7,71.7 86.7,68.7 86.7,121.7 68.7,118.3" fill="#a80000"/>
<polygon points="86.7,68.7 125.3,69.6 125.3,121.2 86.7,121.7" fill="#e00000"/>
<polygon points="112.7,72.0 125.3,72.0 125.3,101.0 112.7,101.0" fill="#c80000"/>
<polygon points="86.7,72.3 112.7,72.3 112.7,95.0 86.7,95.0" fill="#0a96dc"/>
<polygon points="125.3,70.3 134.0,70.3 134.0,119.8 125.3,120.5" fill="#a00000"/>
<polygon points="134.0,70.3 168.0,70.3 168.0,119.7 134.0,119.8" fill="#e00000"/>
<polygon points="86.7,68.4 100.0,67.8 134.0,70.0 125.3,71.0 86.7,72.3" fill="#100000"/>
<polygon points="185.1,112.5 192.0,111.9 192.0,130.1 185.1,130.1" fill="#a8a400"/>
<polygon points="192.0,111.9 197.7,112.5 197.7,129.6 192.0,130.1" fill="#e8e400"/>
<polygon points="286.5,119.5 301.0,118.8 301.0,145.9 286.5,145.2" fill="#a8a400"/>
<polygon points="301.0,118.8 306.6,119.5 306.6,145.0 301.0,145.9" fill="#ece800"/>
<polygon points="283.0,145.0 310.0,145.5 314.0,148.0 290.0,148.0" fill="#00a020"/>
<circle cx="32.6" cy="33.5" r="3.4" fill="#d2d2d2"/>
<circle cx="72.9" cy="44.8" r="3.4" fill="#d2d2d2"/>
<circle cx="11.6" cy="56.1" r="3.4" fill="#d2d2d2"/>
<circle cx="61" cy="58.7" r="3.4" fill="#d2d2d2"/>
<circle cx="105.2" cy="52.3" r="3.4" fill="#d2d2d2"/>
<circle cx="103" cy="61.6" r="3.4" fill="#d2d2d2"/>
<circle cx="140.1" cy="64.5" r="3.4" fill="#d2d2d2"/>
<circle cx="156.3" cy="59.4" r="3.4" fill="#d2d2d2"/>
<circle cx="175" cy="65.8" r="3.4" fill="#d2d2d2"/>
<circle cx="199.9" cy="62.6" r="3.4" fill="#d2d2d2"/>
<circle cx="230.6" cy="58.4" r="3.4" fill="#d2d2d2"/>
<circle cx="270.3" cy="53.6" r="3.4" fill="#d2d2d2"/>
<circle cx="120.3" cy="78.7" r="3.4" fill="#d2d2d2"/>
<circle cx="120.3" cy="88.4" r="3.4" fill="#d2d2d2"/>
<circle cx="12.5" cy="98.1" r="3.4" fill="#d2d2d2"/>
<circle cx="33.5" cy="98.1" r="3.4" fill="#d2d2d2"/>
<circle cx="61" cy="98.1" r="3.4" fill="#d2d2d2"/>
<circle cx="72.9" cy="98.1" r="3.4" fill="#d2d2d2"/>
<circle cx="103.9" cy="98.1" r="3.4" fill="#d2d2d2"/>
<circle cx="105.5" cy="98.1" r="3.4" fill="#d2d2d2"/>
<circle cx="120.3" cy="98.1" r="3.4" fill="#d2d2d2"/>
<circle cx="140.1" cy="98.1" r="3.4" fill="#d2d2d2"/>
<circle cx="156.3" cy="98.1" r="3.4" fill="#d2d2d2"/>
<circle cx="175" cy="98.1" r="3.4" fill="#d2d2d2"/>
<circle cx="199.9" cy="98.1" r="3.4" fill="#d2d2d2"/>
<circle cx="229.9" cy="98.1" r="3.4" fill="#d2d2d2"/>
<circle cx="269.3" cy="98.1" r="3.4" fill="#d2d2d2"/>
<circle cx="12.5" cy="139.1" r="3.4" fill="#d2d2d2"/>
<circle cx="61.6" cy="136.9" r="3.4" fill="#d2d2d2"/>
<circle cx="103.3" cy="133.7" r="3.4" fill="#d2d2d2"/>
<circle cx="140.1" cy="131.4" r="3.4" fill="#d2d2d2"/>
<circle cx="174.4" cy="129.5" r="3.4" fill="#d2d2d2"/>
<circle cx="198.9" cy="133" r="3.4" fill="#d2d2d2"/>
<circle cx="229.3" cy="137.9" r="3.4" fill="#d2d2d2"/>
<circle cx="268.7" cy="144" r="3.4" fill="#d2d2d2"/>
<circle cx="156.3" cy="136.9" r="3.4" fill="#d2d2d2"/>
<circle cx="104.6" cy="143.3" r="3.4" fill="#d2d2d2"/>
<circle cx="72.9" cy="151.7" r="3.4" fill="#d2d2d2"/>
<circle cx="34.2" cy="162.1" r="3.4" fill="#d2d2d2"/>
<text x="16.7" y="31.9" class="mono" style="font-size:7.4px;fill:#dcdcdc">M43</text>
<text x="56.8" y="42.6" class="mono" style="font-size:7.4px;fill:#dcdcdc">M40</text>
<text x="-0.4" y="53.6" class="mono" style="font-size:7.4px;fill:#dcdcdc">28</text>
<text x="44.8" y="57.1" class="mono" style="font-size:7.4px;fill:#dcdcdc">M25</text>
<text x="89.4" y="50.3" class="mono" style="font-size:7.4px;fill:#dcdcdc">M37</text>
<text x="87.8" y="60" class="mono" style="font-size:7.4px;fill:#dcdcdc">M22</text>
<text x="125.6" y="62.6" class="mono" style="font-size:7.4px;fill:#dcdcdc">M17</text>
<text x="141.7" y="57.8" class="mono" style="font-size:7.4px;fill:#dcdcdc">M34</text>
<text x="162.7" y="64.2" class="mono" style="font-size:7.4px;fill:#dcdcdc">M7</text>
<text x="187.9" y="61" class="mono" style="font-size:7.4px;fill:#dcdcdc">M8</text>
<text x="217.6" y="56.8" class="mono" style="font-size:7.4px;fill:#dcdcdc">M11</text>
<text x="258" y="51.3" class="mono" style="font-size:7.4px;fill:#dcdcdc">M14</text>
<text x="107.8" y="77.1" class="mono" style="font-size:7.4px;fill:#dcdcdc">M4</text>
<text x="107.8" y="86.8" class="mono" style="font-size:7.4px;fill:#dcdcdc">M1</text>
<text x="-0.4" y="97.2" class="mono" style="font-size:7.4px;fill:#dcdcdc">27</text>
<text x="17.4" y="97.2" class="mono" style="font-size:7.4px;fill:#dcdcdc">M42</text>
<text x="45.8" y="97.2" class="mono" style="font-size:7.4px;fill:#dcdcdc">M24</text>
<text x="57.8" y="97.2" class="mono" style="font-size:7.4px;fill:#dcdcdc">M39</text>
<text x="86.4" y="97.2" class="mono" style="font-size:7.4px;fill:#dcdcdc">MM36</text>
<text x="107.8" y="97.2" class="mono" style="font-size:7.4px;fill:#dcdcdc">M3</text>
<text x="125.6" y="97.2" class="mono" style="font-size:7.4px;fill:#dcdcdc">M10</text>
<text x="141.7" y="97.2" class="mono" style="font-size:7.4px;fill:#dcdcdc">M33</text>
<text x="162.7" y="97.2" class="mono" style="font-size:7.4px;fill:#dcdcdc">M6</text>
<text x="187.9" y="97.2" class="mono" style="font-size:7.4px;fill:#dcdcdc">M9</text>
<text x="217" y="97.2" class="mono" style="font-size:7.4px;fill:#dcdcdc">M12</text>
<text x="257.4" y="97.2" class="mono" style="font-size:7.4px;fill:#dcdcdc">M15</text>
<text x="-0.4" y="140" class="mono" style="font-size:7.4px;fill:#dcdcdc">M26</text>
<text x="45.8" y="136.2" class="mono" style="font-size:7.4px;fill:#dcdcdc">M23</text>
<text x="87.8" y="133.7" class="mono" style="font-size:7.4px;fill:#dcdcdc">M20</text>
<text x="125.6" y="131" class="mono" style="font-size:7.4px;fill:#dcdcdc">M19</text>
<text x="162.7" y="128.8" class="mono" style="font-size:7.4px;fill:#dcdcdc">M5</text>
<text x="184.7" y="133" class="mono" style="font-size:7.4px;fill:#dcdcdc">M21</text>
<text x="217" y="137.5" class="mono" style="font-size:7.4px;fill:#dcdcdc">M13</text>
<text x="256.4" y="144" class="mono" style="font-size:7.4px;fill:#dcdcdc">M16</text>
<text x="141.7" y="136.2" class="mono" style="font-size:7.4px;fill:#dcdcdc">M32</text>
<text x="89.4" y="142.7" class="mono" style="font-size:7.4px;fill:#dcdcdc">M35</text>
<text x="57.8" y="151.4" class="mono" style="font-size:7.4px;fill:#dcdcdc">M38</text>
<text x="19" y="162" class="mono" style="font-size:7.4px;fill:#dcdcdc">M41</text>
<path d="M216,47 L279,37.5 Q284,37 284.3,42 L285.3,53 Q285.6,57.5 281,58.2 L218,68 Q213,68.7 212.6,64 L210.8,53.5 Q210.5,48 216,47 Z" fill="none" stroke="#f00000" stroke-width="2.4" stroke-dasharray="7 5.8" stroke-linecap="round"/>
</g>
</svg></body></html>
